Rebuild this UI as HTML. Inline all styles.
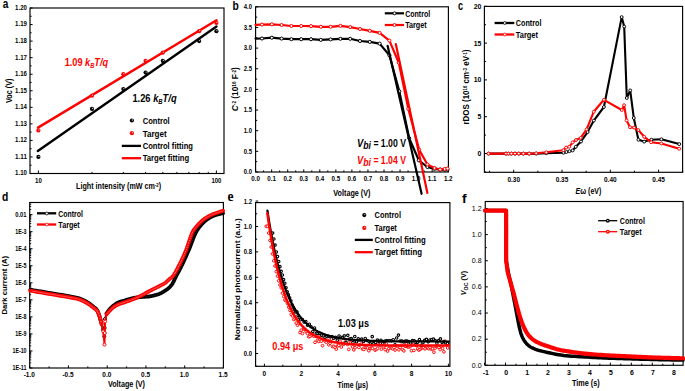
<!DOCTYPE html><html><head><meta charset="utf-8"><style>html,body{margin:0;padding:0;background:#fff;overflow:hidden}svg{display:block}</style></head><body><svg width="685" height="391" viewBox="0 0 685 391">
<rect width="685" height="391" fill="#fff"/>
<rect x="30" y="8" width="194" height="165.5" fill="none" stroke="#000" stroke-width="1.15"/>
<line x1="30" y1="173.5" x2="32.6" y2="173.5" stroke="#000" stroke-width="1" />
<line x1="30" y1="156.95" x2="32.6" y2="156.95" stroke="#000" stroke-width="1" />
<line x1="30" y1="140.4" x2="32.6" y2="140.4" stroke="#000" stroke-width="1" />
<line x1="30" y1="123.85" x2="32.6" y2="123.85" stroke="#000" stroke-width="1" />
<line x1="30" y1="107.3" x2="32.6" y2="107.3" stroke="#000" stroke-width="1" />
<line x1="30" y1="90.75" x2="32.6" y2="90.75" stroke="#000" stroke-width="1" />
<line x1="30" y1="74.2" x2="32.6" y2="74.2" stroke="#000" stroke-width="1" />
<line x1="30" y1="57.65" x2="32.6" y2="57.65" stroke="#000" stroke-width="1" />
<line x1="30" y1="41.1" x2="32.6" y2="41.1" stroke="#000" stroke-width="1" />
<line x1="30" y1="24.55" x2="32.6" y2="24.55" stroke="#000" stroke-width="1" />
<line x1="30" y1="8" x2="32.6" y2="8" stroke="#000" stroke-width="1" />
<line x1="30" y1="165.23" x2="31.6" y2="165.23" stroke="#000" stroke-width="1" />
<line x1="30" y1="148.68" x2="31.6" y2="148.68" stroke="#000" stroke-width="1" />
<line x1="30" y1="132.13" x2="31.6" y2="132.13" stroke="#000" stroke-width="1" />
<line x1="30" y1="115.58" x2="31.6" y2="115.58" stroke="#000" stroke-width="1" />
<line x1="30" y1="99.03" x2="31.6" y2="99.03" stroke="#000" stroke-width="1" />
<line x1="30" y1="82.48" x2="31.6" y2="82.48" stroke="#000" stroke-width="1" />
<line x1="30" y1="65.93" x2="31.6" y2="65.93" stroke="#000" stroke-width="1" />
<line x1="30" y1="49.38" x2="31.6" y2="49.38" stroke="#000" stroke-width="1" />
<line x1="30" y1="32.83" x2="31.6" y2="32.83" stroke="#000" stroke-width="1" />
<line x1="30" y1="16.28" x2="31.6" y2="16.28" stroke="#000" stroke-width="1" />
<line x1="38.4" y1="173.5" x2="38.4" y2="170.5" stroke="#000" stroke-width="1" />
<line x1="216.4" y1="173.5" x2="216.4" y2="170.5" stroke="#000" stroke-width="1" />
<line x1="91.98" y1="173.5" x2="91.98" y2="171.9" stroke="#000" stroke-width="1" />
<line x1="123.33" y1="173.5" x2="123.33" y2="171.9" stroke="#000" stroke-width="1" />
<line x1="145.57" y1="173.5" x2="145.57" y2="171.9" stroke="#000" stroke-width="1" />
<line x1="162.82" y1="173.5" x2="162.82" y2="171.9" stroke="#000" stroke-width="1" />
<line x1="176.91" y1="173.5" x2="176.91" y2="171.9" stroke="#000" stroke-width="1" />
<line x1="188.83" y1="173.5" x2="188.83" y2="171.9" stroke="#000" stroke-width="1" />
<line x1="199.15" y1="173.5" x2="199.15" y2="171.9" stroke="#000" stroke-width="1" />
<line x1="208.26" y1="173.5" x2="208.26" y2="171.9" stroke="#000" stroke-width="1" />
<text x="26.9" y="175.4" font-family="Liberation Sans, sans-serif" font-size="6.5" font-weight="bold" fill="#000" text-anchor="end" textLength="11.8" lengthAdjust="spacingAndGlyphs">1.10</text>
<text x="26.9" y="158.85" font-family="Liberation Sans, sans-serif" font-size="6.5" font-weight="bold" fill="#000" text-anchor="end" textLength="11.8" lengthAdjust="spacingAndGlyphs">1.11</text>
<text x="26.9" y="142.3" font-family="Liberation Sans, sans-serif" font-size="6.5" font-weight="bold" fill="#000" text-anchor="end" textLength="11.8" lengthAdjust="spacingAndGlyphs">1.12</text>
<text x="26.9" y="125.75" font-family="Liberation Sans, sans-serif" font-size="6.5" font-weight="bold" fill="#000" text-anchor="end" textLength="11.8" lengthAdjust="spacingAndGlyphs">1.13</text>
<text x="26.9" y="109.2" font-family="Liberation Sans, sans-serif" font-size="6.5" font-weight="bold" fill="#000" text-anchor="end" textLength="11.8" lengthAdjust="spacingAndGlyphs">1.14</text>
<text x="26.9" y="92.65" font-family="Liberation Sans, sans-serif" font-size="6.5" font-weight="bold" fill="#000" text-anchor="end" textLength="11.8" lengthAdjust="spacingAndGlyphs">1.15</text>
<text x="26.9" y="76.1" font-family="Liberation Sans, sans-serif" font-size="6.5" font-weight="bold" fill="#000" text-anchor="end" textLength="11.8" lengthAdjust="spacingAndGlyphs">1.16</text>
<text x="26.9" y="59.55" font-family="Liberation Sans, sans-serif" font-size="6.5" font-weight="bold" fill="#000" text-anchor="end" textLength="11.8" lengthAdjust="spacingAndGlyphs">1.17</text>
<text x="26.9" y="43" font-family="Liberation Sans, sans-serif" font-size="6.5" font-weight="bold" fill="#000" text-anchor="end" textLength="11.8" lengthAdjust="spacingAndGlyphs">1.18</text>
<text x="26.9" y="26.45" font-family="Liberation Sans, sans-serif" font-size="6.5" font-weight="bold" fill="#000" text-anchor="end" textLength="11.8" lengthAdjust="spacingAndGlyphs">1.19</text>
<text x="26.9" y="9.9" font-family="Liberation Sans, sans-serif" font-size="6.5" font-weight="bold" fill="#000" text-anchor="end" textLength="11.8" lengthAdjust="spacingAndGlyphs">1.20</text>
<text x="38.4" y="182.7" font-family="Liberation Sans, sans-serif" font-size="6.5" font-weight="bold" fill="#000" text-anchor="middle" textLength="6.8" lengthAdjust="spacingAndGlyphs">10</text>
<text x="216.4" y="182.7" font-family="Liberation Sans, sans-serif" font-size="6.5" font-weight="bold" fill="#000" text-anchor="middle" textLength="10" lengthAdjust="spacingAndGlyphs">100</text>
<polyline points="38,127.6 216.5,20.2" fill="none" stroke="#ff0000" stroke-width="2.4" stroke-linejoin="round" stroke-linecap="round" />
<polyline points="37.8,150.9 216.5,26.4" fill="none" stroke="#000" stroke-width="2.4" stroke-linejoin="round" stroke-linecap="round" />
<circle cx="38.4" cy="156.95" r="2.1" fill="#000"/>
<circle cx="38.9" cy="156.45" r="0.65" fill="#fff" opacity="0.8"/>
<circle cx="91.98" cy="108.96" r="2.1" fill="#000"/>
<circle cx="92.48" cy="108.46" r="0.65" fill="#fff" opacity="0.8"/>
<circle cx="123.33" cy="89.1" r="2.1" fill="#000"/>
<circle cx="123.83" cy="88.6" r="0.65" fill="#fff" opacity="0.8"/>
<circle cx="145.57" cy="72.55" r="2.1" fill="#000"/>
<circle cx="146.07" cy="72.05" r="0.65" fill="#fff" opacity="0.8"/>
<circle cx="162.82" cy="60.96" r="2.1" fill="#000"/>
<circle cx="163.32" cy="60.46" r="0.65" fill="#fff" opacity="0.8"/>
<circle cx="199.15" cy="41.1" r="2.1" fill="#000"/>
<circle cx="199.65" cy="40.6" r="0.65" fill="#fff" opacity="0.8"/>
<circle cx="216.4" cy="31.17" r="2.1" fill="#000"/>
<circle cx="216.9" cy="30.67" r="0.65" fill="#fff" opacity="0.8"/>
<circle cx="38.4" cy="130.47" r="2.1" fill="#ff0000"/>
<circle cx="38.9" cy="129.97" r="0.65" fill="#fff" opacity="0.8"/>
<circle cx="91.98" cy="95.72" r="2.1" fill="#ff0000"/>
<circle cx="92.48" cy="95.22" r="0.65" fill="#fff" opacity="0.8"/>
<circle cx="123.33" cy="74.2" r="2.1" fill="#ff0000"/>
<circle cx="123.83" cy="73.7" r="0.65" fill="#fff" opacity="0.8"/>
<circle cx="145.57" cy="60.96" r="2.1" fill="#ff0000"/>
<circle cx="146.07" cy="60.46" r="0.65" fill="#fff" opacity="0.8"/>
<circle cx="162.82" cy="52.69" r="2.1" fill="#ff0000"/>
<circle cx="163.32" cy="52.19" r="0.65" fill="#fff" opacity="0.8"/>
<circle cx="199.15" cy="31.17" r="2.1" fill="#ff0000"/>
<circle cx="199.65" cy="30.67" r="0.65" fill="#fff" opacity="0.8"/>
<circle cx="216.4" cy="22.9" r="2.1" fill="#ff0000"/>
<circle cx="216.9" cy="22.4" r="0.65" fill="#fff" opacity="0.8"/>
<text x="64.7" y="65.8" font-family="Liberation Sans, sans-serif" font-size="11.2" font-weight="bold" fill="#ff0000" textLength="43.4" lengthAdjust="spacingAndGlyphs">1.09 <tspan font-style="italic">k</tspan><tspan font-style="italic" font-size="7" dy="2.2">B</tspan><tspan font-style="italic" dy="-2.2">T/q</tspan></text>
<text x="132.4" y="101.8" font-family="Liberation Sans, sans-serif" font-size="11.2" font-weight="bold" fill="#000" textLength="44.2" lengthAdjust="spacingAndGlyphs">1.26 <tspan font-style="italic">k</tspan><tspan font-style="italic" font-size="7" dy="2.2">B</tspan><tspan font-style="italic" dy="-2.2">T/q</tspan></text>
<circle cx="131.9" cy="120.5" r="2.1" fill="#000"/>
<circle cx="132.4" cy="120" r="0.65" fill="#fff" opacity="0.8"/>
<circle cx="131.9" cy="133.2" r="2.1" fill="#ff0000"/>
<circle cx="132.4" cy="132.7" r="0.65" fill="#fff" opacity="0.8"/>
<line x1="121.8" y1="145.9" x2="141" y2="145.9" stroke="#000" stroke-width="2.3" />
<line x1="121.8" y1="158.2" x2="141" y2="158.2" stroke="#ff0000" stroke-width="2.3" />
<text x="142.7" y="124" font-family="Liberation Sans, sans-serif" font-size="8.4" font-weight="bold" fill="#000" text-anchor="start" textLength="27" lengthAdjust="spacingAndGlyphs">Control</text>
<text x="142.7" y="136.5" font-family="Liberation Sans, sans-serif" font-size="8.4" font-weight="bold" fill="#000" text-anchor="start" textLength="24" lengthAdjust="spacingAndGlyphs">Target</text>
<text x="142.7" y="148.9" font-family="Liberation Sans, sans-serif" font-size="8.4" font-weight="bold" fill="#000" text-anchor="start" textLength="50.3" lengthAdjust="spacingAndGlyphs">Control fitting</text>
<text x="142.7" y="161.2" font-family="Liberation Sans, sans-serif" font-size="8.4" font-weight="bold" fill="#000" text-anchor="start" textLength="46.5" lengthAdjust="spacingAndGlyphs">Target fitting</text>
<text x="76.1" y="189.3" font-family="Liberation Sans, sans-serif" font-size="8.5" font-weight="bold" fill="#000" text-anchor="start" textLength="85" lengthAdjust="spacingAndGlyphs">Light intensity (mW cm<tspan font-size="5" dy="-2.6">-2</tspan><tspan dy="2.6">)</tspan></text>
<text transform="translate(11.6 90.8) rotate(-90)" font-family="Liberation Sans, sans-serif" font-size="8.6" font-weight="bold" text-anchor="middle" fill="#000" textLength="24.5" lengthAdjust="spacingAndGlyphs">Voc (V)</text>
<text x="2.7" y="8" font-family="Liberation Sans, sans-serif" font-size="12.3" font-weight="bold" fill="#000" text-anchor="start" textLength="5.6" lengthAdjust="spacingAndGlyphs">a</text>
<rect x="255.6" y="6.8" width="192.8" height="165.2" fill="none" stroke="#000" stroke-width="1.15"/>
<line x1="255.6" y1="172" x2="258.2" y2="172" stroke="#000" stroke-width="1" />
<line x1="255.6" y1="151.35" x2="258.2" y2="151.35" stroke="#000" stroke-width="1" />
<line x1="255.6" y1="130.7" x2="258.2" y2="130.7" stroke="#000" stroke-width="1" />
<line x1="255.6" y1="110.05" x2="258.2" y2="110.05" stroke="#000" stroke-width="1" />
<line x1="255.6" y1="89.4" x2="258.2" y2="89.4" stroke="#000" stroke-width="1" />
<line x1="255.6" y1="68.75" x2="258.2" y2="68.75" stroke="#000" stroke-width="1" />
<line x1="255.6" y1="48.1" x2="258.2" y2="48.1" stroke="#000" stroke-width="1" />
<line x1="255.6" y1="27.45" x2="258.2" y2="27.45" stroke="#000" stroke-width="1" />
<line x1="255.6" y1="6.8" x2="258.2" y2="6.8" stroke="#000" stroke-width="1" />
<line x1="255.6" y1="161.68" x2="257.2" y2="161.68" stroke="#000" stroke-width="1" />
<line x1="255.6" y1="141.03" x2="257.2" y2="141.03" stroke="#000" stroke-width="1" />
<line x1="255.6" y1="120.38" x2="257.2" y2="120.38" stroke="#000" stroke-width="1" />
<line x1="255.6" y1="99.73" x2="257.2" y2="99.73" stroke="#000" stroke-width="1" />
<line x1="255.6" y1="79.08" x2="257.2" y2="79.08" stroke="#000" stroke-width="1" />
<line x1="255.6" y1="58.43" x2="257.2" y2="58.43" stroke="#000" stroke-width="1" />
<line x1="255.6" y1="37.78" x2="257.2" y2="37.78" stroke="#000" stroke-width="1" />
<line x1="255.6" y1="17.12" x2="257.2" y2="17.12" stroke="#000" stroke-width="1" />
<line x1="255.6" y1="172" x2="255.6" y2="169.4" stroke="#000" stroke-width="1" />
<line x1="271.65" y1="172" x2="271.65" y2="169.4" stroke="#000" stroke-width="1" />
<line x1="287.7" y1="172" x2="287.7" y2="169.4" stroke="#000" stroke-width="1" />
<line x1="303.75" y1="172" x2="303.75" y2="169.4" stroke="#000" stroke-width="1" />
<line x1="319.8" y1="172" x2="319.8" y2="169.4" stroke="#000" stroke-width="1" />
<line x1="335.85" y1="172" x2="335.85" y2="169.4" stroke="#000" stroke-width="1" />
<line x1="351.9" y1="172" x2="351.9" y2="169.4" stroke="#000" stroke-width="1" />
<line x1="367.95" y1="172" x2="367.95" y2="169.4" stroke="#000" stroke-width="1" />
<line x1="384" y1="172" x2="384" y2="169.4" stroke="#000" stroke-width="1" />
<line x1="400.05" y1="172" x2="400.05" y2="169.4" stroke="#000" stroke-width="1" />
<line x1="416.1" y1="172" x2="416.1" y2="169.4" stroke="#000" stroke-width="1" />
<line x1="432.15" y1="172" x2="432.15" y2="169.4" stroke="#000" stroke-width="1" />
<line x1="448.2" y1="172" x2="448.2" y2="169.4" stroke="#000" stroke-width="1" />
<line x1="263.62" y1="172" x2="263.62" y2="170.4" stroke="#000" stroke-width="1" />
<line x1="279.68" y1="172" x2="279.68" y2="170.4" stroke="#000" stroke-width="1" />
<line x1="295.73" y1="172" x2="295.73" y2="170.4" stroke="#000" stroke-width="1" />
<line x1="311.77" y1="172" x2="311.77" y2="170.4" stroke="#000" stroke-width="1" />
<line x1="327.82" y1="172" x2="327.82" y2="170.4" stroke="#000" stroke-width="1" />
<line x1="343.88" y1="172" x2="343.88" y2="170.4" stroke="#000" stroke-width="1" />
<line x1="359.93" y1="172" x2="359.93" y2="170.4" stroke="#000" stroke-width="1" />
<line x1="375.98" y1="172" x2="375.98" y2="170.4" stroke="#000" stroke-width="1" />
<line x1="392.02" y1="172" x2="392.02" y2="170.4" stroke="#000" stroke-width="1" />
<line x1="408.08" y1="172" x2="408.08" y2="170.4" stroke="#000" stroke-width="1" />
<line x1="424.12" y1="172" x2="424.12" y2="170.4" stroke="#000" stroke-width="1" />
<line x1="440.18" y1="172" x2="440.18" y2="170.4" stroke="#000" stroke-width="1" />
<text x="252" y="174.2" font-family="Liberation Sans, sans-serif" font-size="6.5" font-weight="bold" fill="#000" text-anchor="end" textLength="8.2" lengthAdjust="spacingAndGlyphs">0.0</text>
<text x="252" y="153.55" font-family="Liberation Sans, sans-serif" font-size="6.5" font-weight="bold" fill="#000" text-anchor="end" textLength="8.2" lengthAdjust="spacingAndGlyphs">0.5</text>
<text x="252" y="132.9" font-family="Liberation Sans, sans-serif" font-size="6.5" font-weight="bold" fill="#000" text-anchor="end" textLength="8.2" lengthAdjust="spacingAndGlyphs">1.0</text>
<text x="252" y="112.25" font-family="Liberation Sans, sans-serif" font-size="6.5" font-weight="bold" fill="#000" text-anchor="end" textLength="8.2" lengthAdjust="spacingAndGlyphs">1.5</text>
<text x="252" y="91.6" font-family="Liberation Sans, sans-serif" font-size="6.5" font-weight="bold" fill="#000" text-anchor="end" textLength="8.2" lengthAdjust="spacingAndGlyphs">2.0</text>
<text x="252" y="70.95" font-family="Liberation Sans, sans-serif" font-size="6.5" font-weight="bold" fill="#000" text-anchor="end" textLength="8.2" lengthAdjust="spacingAndGlyphs">2.5</text>
<text x="252" y="50.3" font-family="Liberation Sans, sans-serif" font-size="6.5" font-weight="bold" fill="#000" text-anchor="end" textLength="8.2" lengthAdjust="spacingAndGlyphs">3.0</text>
<text x="252" y="29.65" font-family="Liberation Sans, sans-serif" font-size="6.5" font-weight="bold" fill="#000" text-anchor="end" textLength="8.2" lengthAdjust="spacingAndGlyphs">3.5</text>
<text x="252" y="9" font-family="Liberation Sans, sans-serif" font-size="6.5" font-weight="bold" fill="#000" text-anchor="end" textLength="8.2" lengthAdjust="spacingAndGlyphs">4.0</text>
<text x="255.6" y="181.2" font-family="Liberation Sans, sans-serif" font-size="6.5" font-weight="bold" fill="#000" text-anchor="middle" textLength="8.6" lengthAdjust="spacingAndGlyphs">0.0</text>
<text x="271.65" y="181.2" font-family="Liberation Sans, sans-serif" font-size="6.5" font-weight="bold" fill="#000" text-anchor="middle" textLength="8.6" lengthAdjust="spacingAndGlyphs">0.1</text>
<text x="287.7" y="181.2" font-family="Liberation Sans, sans-serif" font-size="6.5" font-weight="bold" fill="#000" text-anchor="middle" textLength="8.6" lengthAdjust="spacingAndGlyphs">0.2</text>
<text x="303.75" y="181.2" font-family="Liberation Sans, sans-serif" font-size="6.5" font-weight="bold" fill="#000" text-anchor="middle" textLength="8.6" lengthAdjust="spacingAndGlyphs">0.3</text>
<text x="319.8" y="181.2" font-family="Liberation Sans, sans-serif" font-size="6.5" font-weight="bold" fill="#000" text-anchor="middle" textLength="8.6" lengthAdjust="spacingAndGlyphs">0.4</text>
<text x="335.85" y="181.2" font-family="Liberation Sans, sans-serif" font-size="6.5" font-weight="bold" fill="#000" text-anchor="middle" textLength="8.6" lengthAdjust="spacingAndGlyphs">0.5</text>
<text x="351.9" y="181.2" font-family="Liberation Sans, sans-serif" font-size="6.5" font-weight="bold" fill="#000" text-anchor="middle" textLength="8.6" lengthAdjust="spacingAndGlyphs">0.6</text>
<text x="367.95" y="181.2" font-family="Liberation Sans, sans-serif" font-size="6.5" font-weight="bold" fill="#000" text-anchor="middle" textLength="8.6" lengthAdjust="spacingAndGlyphs">0.7</text>
<text x="384" y="181.2" font-family="Liberation Sans, sans-serif" font-size="6.5" font-weight="bold" fill="#000" text-anchor="middle" textLength="8.6" lengthAdjust="spacingAndGlyphs">0.8</text>
<text x="400.05" y="181.2" font-family="Liberation Sans, sans-serif" font-size="6.5" font-weight="bold" fill="#000" text-anchor="middle" textLength="8.6" lengthAdjust="spacingAndGlyphs">0.9</text>
<text x="416.1" y="181.2" font-family="Liberation Sans, sans-serif" font-size="6.5" font-weight="bold" fill="#000" text-anchor="middle" textLength="8.6" lengthAdjust="spacingAndGlyphs">1.0</text>
<text x="432.15" y="181.2" font-family="Liberation Sans, sans-serif" font-size="6.5" font-weight="bold" fill="#000" text-anchor="middle" textLength="8.6" lengthAdjust="spacingAndGlyphs">1.1</text>
<text x="448.2" y="181.2" font-family="Liberation Sans, sans-serif" font-size="6.5" font-weight="bold" fill="#000" text-anchor="middle" textLength="8.6" lengthAdjust="spacingAndGlyphs">1.2</text>
<polyline points="255.5,38.6 262,38.5 271.8,37.7 281.6,38.6 291.4,39.2 301.2,39.2 311,39.2 320.8,39.9 330.6,39.4 340.4,38.8 350.2,38.8 360,41 369.8,41.9 379.6,43.6 389.4,55.3 399.3,91.3 409.2,138.2 418.8,160.3 427.4,167 434.5,168.9 440.2,169.6 444.7,169.8 447.5,169.6" fill="none" stroke="#000" stroke-width="2.2" stroke-linejoin="round" stroke-linecap="round" />
<circle cx="262" cy="38.5" r="1.55" fill="#fff" stroke="#000" stroke-width="1.0"/>
<circle cx="271.8" cy="37.7" r="1.55" fill="#fff" stroke="#000" stroke-width="1.0"/>
<circle cx="281.6" cy="38.6" r="1.55" fill="#fff" stroke="#000" stroke-width="1.0"/>
<circle cx="291.4" cy="39.2" r="1.55" fill="#fff" stroke="#000" stroke-width="1.0"/>
<circle cx="301.2" cy="39.2" r="1.55" fill="#fff" stroke="#000" stroke-width="1.0"/>
<circle cx="311" cy="39.2" r="1.55" fill="#fff" stroke="#000" stroke-width="1.0"/>
<circle cx="320.8" cy="39.9" r="1.55" fill="#fff" stroke="#000" stroke-width="1.0"/>
<circle cx="330.6" cy="39.4" r="1.55" fill="#fff" stroke="#000" stroke-width="1.0"/>
<circle cx="340.4" cy="38.8" r="1.55" fill="#fff" stroke="#000" stroke-width="1.0"/>
<circle cx="350.2" cy="38.8" r="1.55" fill="#fff" stroke="#000" stroke-width="1.0"/>
<circle cx="360" cy="41" r="1.55" fill="#fff" stroke="#000" stroke-width="1.0"/>
<circle cx="369.8" cy="41.9" r="1.55" fill="#fff" stroke="#000" stroke-width="1.0"/>
<circle cx="379.6" cy="43.6" r="1.55" fill="#fff" stroke="#000" stroke-width="1.0"/>
<circle cx="389.4" cy="55.3" r="1.55" fill="#fff" stroke="#000" stroke-width="1.0"/>
<circle cx="399.3" cy="91.3" r="1.55" fill="#fff" stroke="#000" stroke-width="1.0"/>
<circle cx="409.2" cy="138.2" r="1.55" fill="#fff" stroke="#000" stroke-width="1.0"/>
<circle cx="418.8" cy="160.3" r="1.55" fill="#fff" stroke="#000" stroke-width="1.0"/>
<circle cx="427.4" cy="167" r="1.55" fill="#fff" stroke="#000" stroke-width="1.0"/>
<circle cx="434.5" cy="168.9" r="1.55" fill="#fff" stroke="#000" stroke-width="1.0"/>
<circle cx="440.2" cy="169.6" r="1.55" fill="#fff" stroke="#000" stroke-width="1.0"/>
<circle cx="444.7" cy="169.8" r="1.55" fill="#fff" stroke="#000" stroke-width="1.0"/>
<circle cx="447.5" cy="169.6" r="1.55" fill="#fff" stroke="#000" stroke-width="1.0"/>
<polyline points="255.5,24.8 262,24.6 271.8,24.3 281.6,25 291.4,26 301.2,26 311,26.1 320.8,26.8 330.6,26.8 340.4,25.8 350.2,27.1 360,29 369.8,30.8 379.6,32.9 389.4,40.6 398.8,62.7 408.3,108.7 419.2,149.7 427.4,164.5 434.5,168 440.2,169.5 444.7,168.9 447.5,168.5" fill="none" stroke="#ff0000" stroke-width="2.2" stroke-linejoin="round" stroke-linecap="round" />
<circle cx="262" cy="24.6" r="1.55" fill="#fff" stroke="#ff0000" stroke-width="1.0"/>
<circle cx="271.8" cy="24.3" r="1.55" fill="#fff" stroke="#ff0000" stroke-width="1.0"/>
<circle cx="281.6" cy="25" r="1.55" fill="#fff" stroke="#ff0000" stroke-width="1.0"/>
<circle cx="291.4" cy="26" r="1.55" fill="#fff" stroke="#ff0000" stroke-width="1.0"/>
<circle cx="301.2" cy="26" r="1.55" fill="#fff" stroke="#ff0000" stroke-width="1.0"/>
<circle cx="311" cy="26.1" r="1.55" fill="#fff" stroke="#ff0000" stroke-width="1.0"/>
<circle cx="320.8" cy="26.8" r="1.55" fill="#fff" stroke="#ff0000" stroke-width="1.0"/>
<circle cx="330.6" cy="26.8" r="1.55" fill="#fff" stroke="#ff0000" stroke-width="1.0"/>
<circle cx="340.4" cy="25.8" r="1.55" fill="#fff" stroke="#ff0000" stroke-width="1.0"/>
<circle cx="350.2" cy="27.1" r="1.55" fill="#fff" stroke="#ff0000" stroke-width="1.0"/>
<circle cx="360" cy="29" r="1.55" fill="#fff" stroke="#ff0000" stroke-width="1.0"/>
<circle cx="369.8" cy="30.8" r="1.55" fill="#fff" stroke="#ff0000" stroke-width="1.0"/>
<circle cx="379.6" cy="32.9" r="1.55" fill="#fff" stroke="#ff0000" stroke-width="1.0"/>
<circle cx="389.4" cy="40.6" r="1.55" fill="#fff" stroke="#ff0000" stroke-width="1.0"/>
<circle cx="398.8" cy="62.7" r="1.55" fill="#fff" stroke="#ff0000" stroke-width="1.0"/>
<circle cx="408.3" cy="108.7" r="1.55" fill="#fff" stroke="#ff0000" stroke-width="1.0"/>
<circle cx="419.2" cy="149.7" r="1.55" fill="#fff" stroke="#ff0000" stroke-width="1.0"/>
<circle cx="427.4" cy="164.5" r="1.55" fill="#fff" stroke="#ff0000" stroke-width="1.0"/>
<circle cx="434.5" cy="168" r="1.55" fill="#fff" stroke="#ff0000" stroke-width="1.0"/>
<circle cx="440.2" cy="169.5" r="1.55" fill="#fff" stroke="#ff0000" stroke-width="1.0"/>
<circle cx="444.7" cy="168.9" r="1.55" fill="#fff" stroke="#ff0000" stroke-width="1.0"/>
<circle cx="447.5" cy="168.5" r="1.55" fill="#fff" stroke="#ff0000" stroke-width="1.0"/>
<polyline points="387.6,45.8 421.6,193.8" fill="none" stroke="#000" stroke-width="2.2" stroke-linejoin="round" stroke-linecap="round" />
<polyline points="395.8,44 427.4,193" fill="none" stroke="#ff0000" stroke-width="2.2" stroke-linejoin="round" stroke-linecap="round" />
<line x1="384.8" y1="13.3" x2="404" y2="13.3" stroke="#000" stroke-width="2.2" />
<circle cx="394.5" cy="13.3" r="1.5" fill="#fff" stroke="#000" stroke-width="1.0"/>
<line x1="384.8" y1="25" x2="404" y2="25" stroke="#ff0000" stroke-width="2.2" />
<circle cx="394.5" cy="25" r="1.5" fill="#fff" stroke="#ff0000" stroke-width="1.0"/>
<text x="405.2" y="16.5" font-family="Liberation Sans, sans-serif" font-size="8.4" font-weight="bold" fill="#000" text-anchor="start" textLength="25" lengthAdjust="spacingAndGlyphs">Control</text>
<text x="405.2" y="28.4" font-family="Liberation Sans, sans-serif" font-size="8.4" font-weight="bold" fill="#000" text-anchor="start" textLength="21.5" lengthAdjust="spacingAndGlyphs">Target</text>
<text x="357" y="146.9" font-family="Liberation Sans, sans-serif" font-size="10.0" font-weight="bold" fill="#000" textLength="49" lengthAdjust="spacingAndGlyphs"><tspan font-style="italic" font-size="10.8">V</tspan><tspan font-style="italic" dy="2">bi</tspan><tspan dy="-2"> = 1.00 V</tspan></text>
<text x="357" y="163.6" font-family="Liberation Sans, sans-serif" font-size="10.0" font-weight="bold" fill="#ff0000" textLength="49" lengthAdjust="spacingAndGlyphs"><tspan font-style="italic" font-size="10.8">V</tspan><tspan font-style="italic" dy="2">bi</tspan><tspan dy="-2"> = 1.04 V</tspan></text>
<text transform="translate(238.4 89.2) rotate(-90)" font-family="Liberation Sans, sans-serif" font-size="8.2" font-weight="bold" text-anchor="middle" fill="#000" textLength="44" lengthAdjust="spacingAndGlyphs"><tspan font-style="italic">C</tspan><tspan font-size="4.5" dy="-2.5">-2</tspan><tspan dy="2.5"> (10</tspan><tspan font-size="4.5" dy="-2.5">16</tspan><tspan dy="2.5"> F</tspan><tspan font-size="4.5" dy="-2.5">-2</tspan><tspan dy="2.5">)</tspan></text>
<text x="333.3" y="195.7" font-family="Liberation Sans, sans-serif" font-size="8.6" font-weight="bold" fill="#000" text-anchor="start" textLength="37.2" lengthAdjust="spacingAndGlyphs">Voltage (V)</text>
<text x="232.6" y="9.8" font-family="Liberation Sans, sans-serif" font-size="12.3" font-weight="bold" fill="#000" text-anchor="start" textLength="6.3" lengthAdjust="spacingAndGlyphs">b</text>
<rect x="484.4" y="6.4" width="198.2" height="165.9" fill="none" stroke="#000" stroke-width="1.15"/>
<line x1="484.4" y1="153.5" x2="487" y2="153.5" stroke="#000" stroke-width="1" />
<line x1="484.4" y1="116.7" x2="487" y2="116.7" stroke="#000" stroke-width="1" />
<line x1="484.4" y1="79.9" x2="487" y2="79.9" stroke="#000" stroke-width="1" />
<line x1="484.4" y1="43.1" x2="487" y2="43.1" stroke="#000" stroke-width="1" />
<line x1="484.4" y1="6.3" x2="487" y2="6.3" stroke="#000" stroke-width="1" />
<line x1="484.4" y1="135.1" x2="486" y2="135.1" stroke="#000" stroke-width="1" />
<line x1="484.4" y1="98.3" x2="486" y2="98.3" stroke="#000" stroke-width="1" />
<line x1="484.4" y1="61.5" x2="486" y2="61.5" stroke="#000" stroke-width="1" />
<line x1="484.4" y1="24.7" x2="486" y2="24.7" stroke="#000" stroke-width="1" />
<line x1="484.4" y1="171.9" x2="486" y2="171.9" stroke="#000" stroke-width="1" />
<line x1="513.7" y1="172.3" x2="513.7" y2="169.7" stroke="#000" stroke-width="1" />
<line x1="562" y1="172.3" x2="562" y2="169.7" stroke="#000" stroke-width="1" />
<line x1="610.3" y1="172.3" x2="610.3" y2="169.7" stroke="#000" stroke-width="1" />
<line x1="658.6" y1="172.3" x2="658.6" y2="169.7" stroke="#000" stroke-width="1" />
<line x1="489.55" y1="172.3" x2="489.55" y2="170.7" stroke="#000" stroke-width="1" />
<line x1="537.85" y1="172.3" x2="537.85" y2="170.7" stroke="#000" stroke-width="1" />
<line x1="586.15" y1="172.3" x2="586.15" y2="170.7" stroke="#000" stroke-width="1" />
<line x1="634.45" y1="172.3" x2="634.45" y2="170.7" stroke="#000" stroke-width="1" />
<line x1="682.75" y1="172.3" x2="682.75" y2="170.7" stroke="#000" stroke-width="1" />
<text x="481.3" y="155.9" font-family="Liberation Sans, sans-serif" font-size="6.9" font-weight="bold" fill="#000" text-anchor="end">0</text>
<text x="481.3" y="119.1" font-family="Liberation Sans, sans-serif" font-size="6.9" font-weight="bold" fill="#000" text-anchor="end">5</text>
<text x="481.3" y="82.3" font-family="Liberation Sans, sans-serif" font-size="6.9" font-weight="bold" fill="#000" text-anchor="end">10</text>
<text x="481.3" y="45.5" font-family="Liberation Sans, sans-serif" font-size="6.9" font-weight="bold" fill="#000" text-anchor="end">15</text>
<text x="481.3" y="8.7" font-family="Liberation Sans, sans-serif" font-size="6.9" font-weight="bold" fill="#000" text-anchor="end">20</text>
<text x="513.7" y="182" font-family="Liberation Sans, sans-serif" font-size="6.9" font-weight="bold" fill="#000" text-anchor="middle" textLength="12.6" lengthAdjust="spacingAndGlyphs">0.30</text>
<text x="562" y="182" font-family="Liberation Sans, sans-serif" font-size="6.9" font-weight="bold" fill="#000" text-anchor="middle" textLength="12.6" lengthAdjust="spacingAndGlyphs">0.35</text>
<text x="610.3" y="182" font-family="Liberation Sans, sans-serif" font-size="6.9" font-weight="bold" fill="#000" text-anchor="middle" textLength="12.6" lengthAdjust="spacingAndGlyphs">0.40</text>
<text x="658.6" y="182" font-family="Liberation Sans, sans-serif" font-size="6.9" font-weight="bold" fill="#000" text-anchor="middle" textLength="12.6" lengthAdjust="spacingAndGlyphs">0.45</text>
<polyline points="488.5,153.6 506,153.6 508.5,153.6 511.4,153.6 515,153.6 518.7,153.6 523.4,153.6 529.2,153.6 536.2,153.6 546.3,153.2 563.5,152.8 566.4,152 569.5,151.2 572.6,150.5 575.8,146.8 581,141.5 587.6,132.1 593.8,120.6 603.9,107 621.7,17.1 624.2,26.6 626.8,98 630.2,90.4 633.8,118 638.4,139.7 644.2,141.6 651.4,139.7 661.4,139.3 679.2,144.1" fill="none" stroke="#000" stroke-width="2.1" stroke-linejoin="round" stroke-linecap="round" />
<circle cx="488.5" cy="153.6" r="1.45" fill="#fff" stroke="#000" stroke-width="0.95"/>
<circle cx="506" cy="153.6" r="1.45" fill="#fff" stroke="#000" stroke-width="0.95"/>
<circle cx="508.5" cy="153.6" r="1.45" fill="#fff" stroke="#000" stroke-width="0.95"/>
<circle cx="511.4" cy="153.6" r="1.45" fill="#fff" stroke="#000" stroke-width="0.95"/>
<circle cx="515" cy="153.6" r="1.45" fill="#fff" stroke="#000" stroke-width="0.95"/>
<circle cx="518.7" cy="153.6" r="1.45" fill="#fff" stroke="#000" stroke-width="0.95"/>
<circle cx="523.4" cy="153.6" r="1.45" fill="#fff" stroke="#000" stroke-width="0.95"/>
<circle cx="529.2" cy="153.6" r="1.45" fill="#fff" stroke="#000" stroke-width="0.95"/>
<circle cx="536.2" cy="153.6" r="1.45" fill="#fff" stroke="#000" stroke-width="0.95"/>
<circle cx="546.3" cy="153.2" r="1.45" fill="#fff" stroke="#000" stroke-width="0.95"/>
<circle cx="563.5" cy="152.8" r="1.45" fill="#fff" stroke="#000" stroke-width="0.95"/>
<circle cx="566.4" cy="152" r="1.45" fill="#fff" stroke="#000" stroke-width="0.95"/>
<circle cx="569.5" cy="151.2" r="1.45" fill="#fff" stroke="#000" stroke-width="0.95"/>
<circle cx="572.6" cy="150.5" r="1.45" fill="#fff" stroke="#000" stroke-width="0.95"/>
<circle cx="575.8" cy="146.8" r="1.45" fill="#fff" stroke="#000" stroke-width="0.95"/>
<circle cx="581" cy="141.5" r="1.45" fill="#fff" stroke="#000" stroke-width="0.95"/>
<circle cx="587.6" cy="132.1" r="1.45" fill="#fff" stroke="#000" stroke-width="0.95"/>
<circle cx="593.8" cy="120.6" r="1.45" fill="#fff" stroke="#000" stroke-width="0.95"/>
<circle cx="603.9" cy="107" r="1.45" fill="#fff" stroke="#000" stroke-width="0.95"/>
<circle cx="621.7" cy="17.1" r="1.45" fill="#fff" stroke="#000" stroke-width="0.95"/>
<circle cx="624.2" cy="26.6" r="1.45" fill="#fff" stroke="#000" stroke-width="0.95"/>
<circle cx="626.8" cy="98" r="1.45" fill="#fff" stroke="#000" stroke-width="0.95"/>
<circle cx="630.2" cy="90.4" r="1.45" fill="#fff" stroke="#000" stroke-width="0.95"/>
<circle cx="633.8" cy="118" r="1.45" fill="#fff" stroke="#000" stroke-width="0.95"/>
<circle cx="638.4" cy="139.7" r="1.45" fill="#fff" stroke="#000" stroke-width="0.95"/>
<circle cx="644.2" cy="141.6" r="1.45" fill="#fff" stroke="#000" stroke-width="0.95"/>
<circle cx="651.4" cy="139.7" r="1.45" fill="#fff" stroke="#000" stroke-width="0.95"/>
<circle cx="661.4" cy="139.3" r="1.45" fill="#fff" stroke="#000" stroke-width="0.95"/>
<circle cx="679.2" cy="144.1" r="1.45" fill="#fff" stroke="#000" stroke-width="0.95"/>
<polyline points="488.5,153.6 506,153.6 508.5,153.6 511.4,153.6 515,153.6 518.7,153.6 523.4,153.6 529.2,153.6 536.2,153.3 546.3,152.3 563.3,150.2 566.1,147.6 569.2,146.8 572.6,142.4 576,140 580.7,137.9 586.6,129.4 593.7,111.8 603.9,99.8 621.8,110 624.1,105.2 626.6,120.4 630,127.2 634.2,127.6 638.4,130.1 644.2,136.8 651.1,142.2 661.4,143.5 679.2,148.7" fill="none" stroke="#ff0000" stroke-width="2.1" stroke-linejoin="round" stroke-linecap="round" />
<circle cx="488.5" cy="153.6" r="1.45" fill="#fff" stroke="#ff0000" stroke-width="0.95"/>
<circle cx="506" cy="153.6" r="1.45" fill="#fff" stroke="#ff0000" stroke-width="0.95"/>
<circle cx="508.5" cy="153.6" r="1.45" fill="#fff" stroke="#ff0000" stroke-width="0.95"/>
<circle cx="511.4" cy="153.6" r="1.45" fill="#fff" stroke="#ff0000" stroke-width="0.95"/>
<circle cx="515" cy="153.6" r="1.45" fill="#fff" stroke="#ff0000" stroke-width="0.95"/>
<circle cx="518.7" cy="153.6" r="1.45" fill="#fff" stroke="#ff0000" stroke-width="0.95"/>
<circle cx="523.4" cy="153.6" r="1.45" fill="#fff" stroke="#ff0000" stroke-width="0.95"/>
<circle cx="529.2" cy="153.6" r="1.45" fill="#fff" stroke="#ff0000" stroke-width="0.95"/>
<circle cx="536.2" cy="153.3" r="1.45" fill="#fff" stroke="#ff0000" stroke-width="0.95"/>
<circle cx="546.3" cy="152.3" r="1.45" fill="#fff" stroke="#ff0000" stroke-width="0.95"/>
<circle cx="563.3" cy="150.2" r="1.45" fill="#fff" stroke="#ff0000" stroke-width="0.95"/>
<circle cx="566.1" cy="147.6" r="1.45" fill="#fff" stroke="#ff0000" stroke-width="0.95"/>
<circle cx="569.2" cy="146.8" r="1.45" fill="#fff" stroke="#ff0000" stroke-width="0.95"/>
<circle cx="572.6" cy="142.4" r="1.45" fill="#fff" stroke="#ff0000" stroke-width="0.95"/>
<circle cx="576" cy="140" r="1.45" fill="#fff" stroke="#ff0000" stroke-width="0.95"/>
<circle cx="580.7" cy="137.9" r="1.45" fill="#fff" stroke="#ff0000" stroke-width="0.95"/>
<circle cx="586.6" cy="129.4" r="1.45" fill="#fff" stroke="#ff0000" stroke-width="0.95"/>
<circle cx="593.7" cy="111.8" r="1.45" fill="#fff" stroke="#ff0000" stroke-width="0.95"/>
<circle cx="603.9" cy="99.8" r="1.45" fill="#fff" stroke="#ff0000" stroke-width="0.95"/>
<circle cx="621.8" cy="110" r="1.45" fill="#fff" stroke="#ff0000" stroke-width="0.95"/>
<circle cx="624.1" cy="105.2" r="1.45" fill="#fff" stroke="#ff0000" stroke-width="0.95"/>
<circle cx="626.6" cy="120.4" r="1.45" fill="#fff" stroke="#ff0000" stroke-width="0.95"/>
<circle cx="630" cy="127.2" r="1.45" fill="#fff" stroke="#ff0000" stroke-width="0.95"/>
<circle cx="634.2" cy="127.6" r="1.45" fill="#fff" stroke="#ff0000" stroke-width="0.95"/>
<circle cx="638.4" cy="130.1" r="1.45" fill="#fff" stroke="#ff0000" stroke-width="0.95"/>
<circle cx="644.2" cy="136.8" r="1.45" fill="#fff" stroke="#ff0000" stroke-width="0.95"/>
<circle cx="651.1" cy="142.2" r="1.45" fill="#fff" stroke="#ff0000" stroke-width="0.95"/>
<circle cx="661.4" cy="143.5" r="1.45" fill="#fff" stroke="#ff0000" stroke-width="0.95"/>
<circle cx="679.2" cy="148.7" r="1.45" fill="#fff" stroke="#ff0000" stroke-width="0.95"/>
<line x1="494.6" y1="23" x2="514.3" y2="23" stroke="#000" stroke-width="2.3" />
<circle cx="504.8" cy="23" r="1.4" fill="#fff" stroke="#000" stroke-width="0.8"/>
<line x1="494.6" y1="34.5" x2="514.3" y2="34.5" stroke="#ff0000" stroke-width="2.3" />
<circle cx="504.8" cy="34.5" r="1.4" fill="#fff" stroke="#ff0000" stroke-width="0.8"/>
<text x="515.8" y="26" font-family="Liberation Sans, sans-serif" font-size="8.4" font-weight="bold" fill="#000" text-anchor="start" textLength="25.6" lengthAdjust="spacingAndGlyphs">Control</text>
<text x="515.8" y="37.5" font-family="Liberation Sans, sans-serif" font-size="8.4" font-weight="bold" fill="#000" text-anchor="start" textLength="22.2" lengthAdjust="spacingAndGlyphs">Target</text>
<text transform="translate(469 87) rotate(-90)" font-family="Liberation Sans, sans-serif" font-size="8.2" font-weight="bold" text-anchor="middle" fill="#000" textLength="75" lengthAdjust="spacingAndGlyphs">rDOS (10<tspan font-size="4.5" dy="-2.5">16</tspan><tspan dy="2.5"> cm</tspan><tspan font-size="4.5" dy="-2.5">-3</tspan><tspan dy="2.5"> eV</tspan><tspan font-size="4.5" dy="-2.5">-1</tspan><tspan dy="2.5">)</tspan></text>
<text x="575.6" y="194.3" font-family="Liberation Sans, sans-serif" font-size="8.8" font-weight="bold" fill="#000" text-anchor="start" textLength="25.7" lengthAdjust="spacingAndGlyphs"><tspan font-style="italic">E</tspan>ω (eV)</text>
<text x="458" y="10.1" font-family="Liberation Sans, sans-serif" font-size="12.3" font-weight="bold" fill="#000" text-anchor="start" textLength="5.1" lengthAdjust="spacingAndGlyphs">c</text>
<rect x="29.7" y="202.5" width="193.7" height="165.5" fill="none" stroke="#000" stroke-width="1.15"/>
<line x1="29.7" y1="214.64" x2="32.5" y2="214.64" stroke="#000" stroke-width="1" />
<line x1="29.7" y1="231.68" x2="32.5" y2="231.68" stroke="#000" stroke-width="1" />
<line x1="29.7" y1="248.72" x2="32.5" y2="248.72" stroke="#000" stroke-width="1" />
<line x1="29.7" y1="265.76" x2="32.5" y2="265.76" stroke="#000" stroke-width="1" />
<line x1="29.7" y1="282.8" x2="32.5" y2="282.8" stroke="#000" stroke-width="1" />
<line x1="29.7" y1="299.84" x2="32.5" y2="299.84" stroke="#000" stroke-width="1" />
<line x1="29.7" y1="316.88" x2="32.5" y2="316.88" stroke="#000" stroke-width="1" />
<line x1="29.7" y1="333.92" x2="32.5" y2="333.92" stroke="#000" stroke-width="1" />
<line x1="29.7" y1="350.96" x2="32.5" y2="350.96" stroke="#000" stroke-width="1" />
<line x1="29.7" y1="368" x2="32.5" y2="368" stroke="#000" stroke-width="1" />
<line x1="29.7" y1="226.55" x2="31.2" y2="226.55" stroke="#000" stroke-width="0.9" />
<line x1="29.7" y1="223.55" x2="31.2" y2="223.55" stroke="#000" stroke-width="0.9" />
<line x1="29.7" y1="221.42" x2="31.2" y2="221.42" stroke="#000" stroke-width="0.9" />
<line x1="29.7" y1="219.77" x2="31.2" y2="219.77" stroke="#000" stroke-width="0.9" />
<line x1="29.7" y1="218.42" x2="31.2" y2="218.42" stroke="#000" stroke-width="0.9" />
<line x1="29.7" y1="217.28" x2="31.2" y2="217.28" stroke="#000" stroke-width="0.9" />
<line x1="29.7" y1="216.29" x2="31.2" y2="216.29" stroke="#000" stroke-width="0.9" />
<line x1="29.7" y1="215.42" x2="31.2" y2="215.42" stroke="#000" stroke-width="0.9" />
<line x1="29.7" y1="243.59" x2="31.2" y2="243.59" stroke="#000" stroke-width="0.9" />
<line x1="29.7" y1="240.59" x2="31.2" y2="240.59" stroke="#000" stroke-width="0.9" />
<line x1="29.7" y1="238.46" x2="31.2" y2="238.46" stroke="#000" stroke-width="0.9" />
<line x1="29.7" y1="236.81" x2="31.2" y2="236.81" stroke="#000" stroke-width="0.9" />
<line x1="29.7" y1="235.46" x2="31.2" y2="235.46" stroke="#000" stroke-width="0.9" />
<line x1="29.7" y1="234.32" x2="31.2" y2="234.32" stroke="#000" stroke-width="0.9" />
<line x1="29.7" y1="233.33" x2="31.2" y2="233.33" stroke="#000" stroke-width="0.9" />
<line x1="29.7" y1="232.46" x2="31.2" y2="232.46" stroke="#000" stroke-width="0.9" />
<line x1="29.7" y1="260.63" x2="31.2" y2="260.63" stroke="#000" stroke-width="0.9" />
<line x1="29.7" y1="257.63" x2="31.2" y2="257.63" stroke="#000" stroke-width="0.9" />
<line x1="29.7" y1="255.5" x2="31.2" y2="255.5" stroke="#000" stroke-width="0.9" />
<line x1="29.7" y1="253.85" x2="31.2" y2="253.85" stroke="#000" stroke-width="0.9" />
<line x1="29.7" y1="252.5" x2="31.2" y2="252.5" stroke="#000" stroke-width="0.9" />
<line x1="29.7" y1="251.36" x2="31.2" y2="251.36" stroke="#000" stroke-width="0.9" />
<line x1="29.7" y1="250.37" x2="31.2" y2="250.37" stroke="#000" stroke-width="0.9" />
<line x1="29.7" y1="249.5" x2="31.2" y2="249.5" stroke="#000" stroke-width="0.9" />
<line x1="29.7" y1="277.67" x2="31.2" y2="277.67" stroke="#000" stroke-width="0.9" />
<line x1="29.7" y1="274.67" x2="31.2" y2="274.67" stroke="#000" stroke-width="0.9" />
<line x1="29.7" y1="272.54" x2="31.2" y2="272.54" stroke="#000" stroke-width="0.9" />
<line x1="29.7" y1="270.89" x2="31.2" y2="270.89" stroke="#000" stroke-width="0.9" />
<line x1="29.7" y1="269.54" x2="31.2" y2="269.54" stroke="#000" stroke-width="0.9" />
<line x1="29.7" y1="268.4" x2="31.2" y2="268.4" stroke="#000" stroke-width="0.9" />
<line x1="29.7" y1="267.41" x2="31.2" y2="267.41" stroke="#000" stroke-width="0.9" />
<line x1="29.7" y1="266.54" x2="31.2" y2="266.54" stroke="#000" stroke-width="0.9" />
<line x1="29.7" y1="294.71" x2="31.2" y2="294.71" stroke="#000" stroke-width="0.9" />
<line x1="29.7" y1="291.71" x2="31.2" y2="291.71" stroke="#000" stroke-width="0.9" />
<line x1="29.7" y1="289.58" x2="31.2" y2="289.58" stroke="#000" stroke-width="0.9" />
<line x1="29.7" y1="287.93" x2="31.2" y2="287.93" stroke="#000" stroke-width="0.9" />
<line x1="29.7" y1="286.58" x2="31.2" y2="286.58" stroke="#000" stroke-width="0.9" />
<line x1="29.7" y1="285.44" x2="31.2" y2="285.44" stroke="#000" stroke-width="0.9" />
<line x1="29.7" y1="284.45" x2="31.2" y2="284.45" stroke="#000" stroke-width="0.9" />
<line x1="29.7" y1="283.58" x2="31.2" y2="283.58" stroke="#000" stroke-width="0.9" />
<line x1="29.7" y1="311.75" x2="31.2" y2="311.75" stroke="#000" stroke-width="0.9" />
<line x1="29.7" y1="308.75" x2="31.2" y2="308.75" stroke="#000" stroke-width="0.9" />
<line x1="29.7" y1="306.62" x2="31.2" y2="306.62" stroke="#000" stroke-width="0.9" />
<line x1="29.7" y1="304.97" x2="31.2" y2="304.97" stroke="#000" stroke-width="0.9" />
<line x1="29.7" y1="303.62" x2="31.2" y2="303.62" stroke="#000" stroke-width="0.9" />
<line x1="29.7" y1="302.48" x2="31.2" y2="302.48" stroke="#000" stroke-width="0.9" />
<line x1="29.7" y1="301.49" x2="31.2" y2="301.49" stroke="#000" stroke-width="0.9" />
<line x1="29.7" y1="300.62" x2="31.2" y2="300.62" stroke="#000" stroke-width="0.9" />
<line x1="29.7" y1="328.79" x2="31.2" y2="328.79" stroke="#000" stroke-width="0.9" />
<line x1="29.7" y1="325.79" x2="31.2" y2="325.79" stroke="#000" stroke-width="0.9" />
<line x1="29.7" y1="323.66" x2="31.2" y2="323.66" stroke="#000" stroke-width="0.9" />
<line x1="29.7" y1="322.01" x2="31.2" y2="322.01" stroke="#000" stroke-width="0.9" />
<line x1="29.7" y1="320.66" x2="31.2" y2="320.66" stroke="#000" stroke-width="0.9" />
<line x1="29.7" y1="319.52" x2="31.2" y2="319.52" stroke="#000" stroke-width="0.9" />
<line x1="29.7" y1="318.53" x2="31.2" y2="318.53" stroke="#000" stroke-width="0.9" />
<line x1="29.7" y1="317.66" x2="31.2" y2="317.66" stroke="#000" stroke-width="0.9" />
<line x1="29.7" y1="345.83" x2="31.2" y2="345.83" stroke="#000" stroke-width="0.9" />
<line x1="29.7" y1="342.83" x2="31.2" y2="342.83" stroke="#000" stroke-width="0.9" />
<line x1="29.7" y1="340.7" x2="31.2" y2="340.7" stroke="#000" stroke-width="0.9" />
<line x1="29.7" y1="339.05" x2="31.2" y2="339.05" stroke="#000" stroke-width="0.9" />
<line x1="29.7" y1="337.7" x2="31.2" y2="337.7" stroke="#000" stroke-width="0.9" />
<line x1="29.7" y1="336.56" x2="31.2" y2="336.56" stroke="#000" stroke-width="0.9" />
<line x1="29.7" y1="335.57" x2="31.2" y2="335.57" stroke="#000" stroke-width="0.9" />
<line x1="29.7" y1="334.7" x2="31.2" y2="334.7" stroke="#000" stroke-width="0.9" />
<line x1="29.7" y1="362.87" x2="31.2" y2="362.87" stroke="#000" stroke-width="0.9" />
<line x1="29.7" y1="359.87" x2="31.2" y2="359.87" stroke="#000" stroke-width="0.9" />
<line x1="29.7" y1="357.74" x2="31.2" y2="357.74" stroke="#000" stroke-width="0.9" />
<line x1="29.7" y1="356.09" x2="31.2" y2="356.09" stroke="#000" stroke-width="0.9" />
<line x1="29.7" y1="354.74" x2="31.2" y2="354.74" stroke="#000" stroke-width="0.9" />
<line x1="29.7" y1="353.6" x2="31.2" y2="353.6" stroke="#000" stroke-width="0.9" />
<line x1="29.7" y1="352.61" x2="31.2" y2="352.61" stroke="#000" stroke-width="0.9" />
<line x1="29.7" y1="351.74" x2="31.2" y2="351.74" stroke="#000" stroke-width="0.9" />
<line x1="29.7" y1="209.51" x2="31.2" y2="209.51" stroke="#000" stroke-width="0.9" />
<line x1="29.7" y1="206.51" x2="31.2" y2="206.51" stroke="#000" stroke-width="0.9" />
<line x1="29.7" y1="204.38" x2="31.2" y2="204.38" stroke="#000" stroke-width="0.9" />
<line x1="29.7" y1="202.73" x2="31.2" y2="202.73" stroke="#000" stroke-width="0.9" />
<line x1="29.7" y1="368" x2="29.7" y2="365.4" stroke="#000" stroke-width="1" />
<line x1="68.45" y1="368" x2="68.45" y2="365.4" stroke="#000" stroke-width="1" />
<line x1="107.2" y1="368" x2="107.2" y2="365.4" stroke="#000" stroke-width="1" />
<line x1="145.95" y1="368" x2="145.95" y2="365.4" stroke="#000" stroke-width="1" />
<line x1="184.7" y1="368" x2="184.7" y2="365.4" stroke="#000" stroke-width="1" />
<line x1="223.45" y1="368" x2="223.45" y2="365.4" stroke="#000" stroke-width="1" />
<line x1="49.08" y1="368" x2="49.08" y2="366.4" stroke="#000" stroke-width="1" />
<line x1="87.83" y1="368" x2="87.83" y2="366.4" stroke="#000" stroke-width="1" />
<line x1="126.58" y1="368" x2="126.58" y2="366.4" stroke="#000" stroke-width="1" />
<line x1="165.32" y1="368" x2="165.32" y2="366.4" stroke="#000" stroke-width="1" />
<line x1="204.07" y1="368" x2="204.07" y2="366.4" stroke="#000" stroke-width="1" />
<text x="26.5" y="216.94" font-family="Liberation Sans, sans-serif" font-size="7.0" font-weight="bold" fill="#000" text-anchor="end" textLength="11.3" lengthAdjust="spacingAndGlyphs">0.01</text>
<text x="26.5" y="233.98" font-family="Liberation Sans, sans-serif" font-size="7.0" font-weight="bold" fill="#000" text-anchor="end" textLength="11.3" lengthAdjust="spacingAndGlyphs">1E-3</text>
<text x="26.5" y="251.02" font-family="Liberation Sans, sans-serif" font-size="7.0" font-weight="bold" fill="#000" text-anchor="end" textLength="11.3" lengthAdjust="spacingAndGlyphs">1E-4</text>
<text x="26.5" y="268.06" font-family="Liberation Sans, sans-serif" font-size="7.0" font-weight="bold" fill="#000" text-anchor="end" textLength="11.3" lengthAdjust="spacingAndGlyphs">1E-5</text>
<text x="26.5" y="285.1" font-family="Liberation Sans, sans-serif" font-size="7.0" font-weight="bold" fill="#000" text-anchor="end" textLength="11.3" lengthAdjust="spacingAndGlyphs">1E-6</text>
<text x="26.5" y="302.14" font-family="Liberation Sans, sans-serif" font-size="7.0" font-weight="bold" fill="#000" text-anchor="end" textLength="11.3" lengthAdjust="spacingAndGlyphs">1E-7</text>
<text x="26.5" y="319.18" font-family="Liberation Sans, sans-serif" font-size="7.0" font-weight="bold" fill="#000" text-anchor="end" textLength="11.3" lengthAdjust="spacingAndGlyphs">1E-8</text>
<text x="26.5" y="336.22" font-family="Liberation Sans, sans-serif" font-size="7.0" font-weight="bold" fill="#000" text-anchor="end" textLength="11.3" lengthAdjust="spacingAndGlyphs">1E-9</text>
<text x="26.5" y="353.26" font-family="Liberation Sans, sans-serif" font-size="7.0" font-weight="bold" fill="#000" text-anchor="end" textLength="14" lengthAdjust="spacingAndGlyphs">1E-10</text>
<text x="26.5" y="370.3" font-family="Liberation Sans, sans-serif" font-size="7.0" font-weight="bold" fill="#000" text-anchor="end" textLength="14" lengthAdjust="spacingAndGlyphs">1E-11</text>
<text x="29.3" y="376.8" font-family="Liberation Sans, sans-serif" font-size="6.5" font-weight="bold" fill="#000" text-anchor="middle">-1.0</text>
<text x="68.05" y="376.8" font-family="Liberation Sans, sans-serif" font-size="6.5" font-weight="bold" fill="#000" text-anchor="middle">-0.5</text>
<text x="106.8" y="376.8" font-family="Liberation Sans, sans-serif" font-size="6.5" font-weight="bold" fill="#000" text-anchor="middle">0.0</text>
<text x="145.55" y="376.8" font-family="Liberation Sans, sans-serif" font-size="6.5" font-weight="bold" fill="#000" text-anchor="middle">0.5</text>
<text x="184.3" y="376.8" font-family="Liberation Sans, sans-serif" font-size="6.5" font-weight="bold" fill="#000" text-anchor="middle">1.0</text>
<text x="223.05" y="376.8" font-family="Liberation Sans, sans-serif" font-size="6.5" font-weight="bold" fill="#000" text-anchor="middle">1.5</text>
<polyline points="30.3,289.7 31.69,289.94 33.52,290.25 35.7,290.62 38.12,291.04 40.71,291.48 43.37,291.93 46,292.38 48.5,292.8 51.01,293.22 53.68,293.66 56.43,294.11 59.19,294.56 61.89,295 64.46,295.43 66.82,295.83 68.9,296.2 70.69,296.52 72.23,296.79 73.59,297.04 74.81,297.27 75.94,297.5 77.01,297.76 78.08,298.05 79.2,298.4 80.34,298.8 81.45,299.24 82.52,299.71 83.56,300.21 84.57,300.72 85.55,301.24 86.49,301.77 87.4,302.3 88.28,302.84 89.13,303.41 89.96,304 90.74,304.59 91.5,305.18 92.21,305.75 92.88,306.3 93.5,306.8 94.07,307.24 94.58,307.61 95.05,307.95 95.47,308.28 95.88,308.62 96.26,309 96.63,309.45 97,310 97.36,310.65 97.71,311.38 98.03,312.17 98.34,313.01 98.64,313.88 98.93,314.76 99.22,315.64 99.5,316.5 99.79,317.4 100.08,318.38 100.37,319.4 100.66,320.41 100.92,321.37 101.15,322.23 101.35,322.96 101.5,323.5" fill="none" stroke="#000" stroke-width="3.8" stroke-linejoin="round" stroke-linecap="round" />
<polyline points="106.5,313.5 106.73,313.19 107.03,312.77 107.38,312.27 107.78,311.72 108.21,311.14 108.64,310.56 109.08,310 109.5,309.5 109.9,309.04 110.3,308.59 110.71,308.15 111.12,307.71 111.56,307.28 112.01,306.86 112.49,306.43 113,306 113.53,305.56 114.08,305.12 114.65,304.67 115.24,304.23 115.86,303.8 116.52,303.38 117.24,302.98 118,302.6 118.83,302.25 119.74,301.92 120.69,301.62 121.69,301.32 122.7,301.04 123.72,300.76 124.72,300.48 125.7,300.2 126.65,299.91 127.6,299.61 128.55,299.31 129.5,299.01 130.45,298.73 131.4,298.46 132.35,298.22 133.3,298 134.26,297.81 135.22,297.65 136.18,297.52 137.14,297.39 138.11,297.29 139.07,297.19 140.04,297.09 141,297 141.97,296.92 142.96,296.86 143.95,296.81 144.94,296.77 145.92,296.72 146.87,296.67 147.8,296.6 148.7,296.5 149.56,296.38 150.4,296.24 151.22,296.08 152.02,295.92 152.79,295.74 153.55,295.56 154.28,295.38 155,295.2 155.69,295.02 156.34,294.85 156.96,294.68 157.57,294.51 158.17,294.32 158.77,294.11 159.37,293.87 160,293.6 160.65,293.29 161.31,292.95 161.99,292.58 162.66,292.19 163.33,291.79 163.98,291.38 164.61,290.98 165.2,290.6 165.76,290.23 166.3,289.88 166.82,289.52 167.32,289.17 167.8,288.81 168.28,288.43 168.74,288.03 169.2,287.6 169.64,287.17 170.06,286.74 170.46,286.31 170.85,285.86 171.24,285.37 171.64,284.83 172.06,284.21 172.5,283.5 172.96,282.7 173.43,281.81 173.9,280.85 174.39,279.84 174.9,278.78 175.41,277.7 175.95,276.6 176.5,275.5 177.06,274.43 177.63,273.37 178.21,272.31 178.81,271.22 179.43,270.07 180.08,268.83 180.77,267.48 181.5,266 182.3,264.33 183.18,262.48 184.11,260.5 185.06,258.45 186.01,256.37 186.93,254.32 187.8,252.34 188.6,250.5 189.33,248.74 190.02,246.98 190.68,245.26 191.31,243.58 191.9,241.98 192.46,240.47 192.99,239.07 193.5,237.8 193.96,236.69 194.37,235.73 194.74,234.88 195.09,234.12 195.42,233.43 195.76,232.76 196.11,232.09 196.5,231.4 196.9,230.7 197.3,230.04 197.71,229.4 198.12,228.78 198.56,228.16 199.01,227.55 199.49,226.93 200,226.3 200.55,225.65 201.13,224.97 201.74,224.3 202.38,223.62 203.02,222.95 203.68,222.3 204.34,221.68 205,221.1 205.66,220.55 206.34,220.02 207.03,219.51 207.72,219.02 208.42,218.55 209.11,218.11 209.81,217.69 210.5,217.3 211.18,216.94 211.84,216.61 212.5,216.31 213.16,216.03 213.83,215.76 214.52,215.5 215.24,215.25 216,215 216.85,214.74 217.81,214.47 218.82,214.21 219.84,213.96 220.82,213.72 221.71,213.51 222.45,213.34 223,213.2" fill="none" stroke="#000" stroke-width="3.8" stroke-linejoin="round" stroke-linecap="round" />
<polyline points="101.5,323.5 102.9,329.5 104.2,336.5 104.6,328 105,319 106.5,313.5" fill="none" stroke="#000" stroke-width="1.9" stroke-linejoin="round" stroke-linecap="round" />
<circle cx="102.9" cy="329.5" r="1.5" fill="#fff" stroke="#000" stroke-width="1.0"/>
<circle cx="104.2" cy="336.5" r="1.5" fill="#fff" stroke="#000" stroke-width="1.0"/>
<circle cx="104.6" cy="328" r="1.5" fill="#fff" stroke="#000" stroke-width="1.0"/>
<circle cx="105" cy="319" r="1.5" fill="#fff" stroke="#000" stroke-width="1.0"/>
<circle cx="32.02" cy="289.99" r="0.55" fill="#fff" opacity="0.07"/>
<circle cx="32.8" cy="290.13" r="0.55" fill="#fff" opacity="0.07"/>
<circle cx="33.57" cy="290.26" r="0.55" fill="#fff" opacity="0.07"/>
<circle cx="34.35" cy="290.39" r="0.55" fill="#fff" opacity="0.07"/>
<circle cx="35.12" cy="290.52" r="0.55" fill="#fff" opacity="0.07"/>
<circle cx="35.9" cy="290.66" r="0.55" fill="#fff" opacity="0.07"/>
<circle cx="36.67" cy="290.79" r="0.55" fill="#fff" opacity="0.07"/>
<circle cx="37.45" cy="290.92" r="0.55" fill="#fff" opacity="0.07"/>
<circle cx="38.22" cy="291.05" r="0.55" fill="#fff" opacity="0.07"/>
<circle cx="39" cy="291.19" r="0.55" fill="#fff" opacity="0.07"/>
<circle cx="39.77" cy="291.32" r="0.55" fill="#fff" opacity="0.07"/>
<circle cx="40.55" cy="291.45" r="0.55" fill="#fff" opacity="0.07"/>
<circle cx="41.32" cy="291.58" r="0.55" fill="#fff" opacity="0.07"/>
<circle cx="42.1" cy="291.72" r="0.55" fill="#fff" opacity="0.07"/>
<circle cx="42.87" cy="291.85" r="0.55" fill="#fff" opacity="0.07"/>
<circle cx="43.65" cy="291.98" r="0.55" fill="#fff" opacity="0.07"/>
<circle cx="44.42" cy="292.11" r="0.55" fill="#fff" opacity="0.07"/>
<circle cx="45.2" cy="292.24" r="0.55" fill="#fff" opacity="0.07"/>
<circle cx="45.97" cy="292.37" r="0.55" fill="#fff" opacity="0.07"/>
<circle cx="46.75" cy="292.5" r="0.55" fill="#fff" opacity="0.07"/>
<circle cx="47.52" cy="292.64" r="0.55" fill="#fff" opacity="0.07"/>
<circle cx="48.3" cy="292.77" r="0.55" fill="#fff" opacity="0.07"/>
<circle cx="49.07" cy="292.9" r="0.55" fill="#fff" opacity="0.07"/>
<circle cx="49.85" cy="293.02" r="0.55" fill="#fff" opacity="0.07"/>
<circle cx="50.62" cy="293.15" r="0.55" fill="#fff" opacity="0.07"/>
<circle cx="51.4" cy="293.28" r="0.55" fill="#fff" opacity="0.07"/>
<circle cx="52.17" cy="293.41" r="0.55" fill="#fff" opacity="0.07"/>
<circle cx="52.95" cy="293.54" r="0.55" fill="#fff" opacity="0.07"/>
<circle cx="53.72" cy="293.66" r="0.55" fill="#fff" opacity="0.07"/>
<circle cx="54.5" cy="293.79" r="0.55" fill="#fff" opacity="0.07"/>
<circle cx="55.27" cy="293.92" r="0.55" fill="#fff" opacity="0.07"/>
<circle cx="56.05" cy="294.04" r="0.55" fill="#fff" opacity="0.07"/>
<circle cx="56.82" cy="294.17" r="0.55" fill="#fff" opacity="0.07"/>
<circle cx="57.6" cy="294.3" r="0.55" fill="#fff" opacity="0.07"/>
<circle cx="58.37" cy="294.42" r="0.55" fill="#fff" opacity="0.07"/>
<circle cx="59.15" cy="294.55" r="0.55" fill="#fff" opacity="0.07"/>
<circle cx="59.92" cy="294.68" r="0.55" fill="#fff" opacity="0.07"/>
<circle cx="60.7" cy="294.8" r="0.55" fill="#fff" opacity="0.07"/>
<circle cx="61.47" cy="294.93" r="0.55" fill="#fff" opacity="0.07"/>
<circle cx="62.25" cy="295.06" r="0.55" fill="#fff" opacity="0.07"/>
<circle cx="63.02" cy="295.19" r="0.55" fill="#fff" opacity="0.07"/>
<circle cx="63.8" cy="295.32" r="0.55" fill="#fff" opacity="0.07"/>
<circle cx="64.57" cy="295.45" r="0.55" fill="#fff" opacity="0.07"/>
<circle cx="65.35" cy="295.58" r="0.55" fill="#fff" opacity="0.07"/>
<circle cx="66.12" cy="295.71" r="0.55" fill="#fff" opacity="0.07"/>
<circle cx="66.9" cy="295.84" r="0.55" fill="#fff" opacity="0.07"/>
<circle cx="67.67" cy="295.98" r="0.55" fill="#fff" opacity="0.07"/>
<circle cx="68.45" cy="296.12" r="0.55" fill="#fff" opacity="0.07"/>
<circle cx="69.22" cy="296.26" r="0.55" fill="#fff" opacity="0.07"/>
<circle cx="70" cy="296.4" r="0.55" fill="#fff" opacity="0.07"/>
<circle cx="70.77" cy="296.54" r="0.55" fill="#fff" opacity="0.07"/>
<circle cx="71.55" cy="296.67" r="0.55" fill="#fff" opacity="0.07"/>
<circle cx="72.33" cy="296.81" r="0.55" fill="#fff" opacity="0.07"/>
<circle cx="73.1" cy="296.95" r="0.55" fill="#fff" opacity="0.07"/>
<circle cx="73.88" cy="297.09" r="0.55" fill="#fff" opacity="0.07"/>
<circle cx="74.65" cy="297.24" r="0.55" fill="#fff" opacity="0.07"/>
<circle cx="75.43" cy="297.4" r="0.55" fill="#fff" opacity="0.07"/>
<circle cx="76.2" cy="297.57" r="0.55" fill="#fff" opacity="0.07"/>
<circle cx="76.98" cy="297.75" r="0.55" fill="#fff" opacity="0.07"/>
<circle cx="77.75" cy="297.96" r="0.55" fill="#fff" opacity="0.07"/>
<circle cx="78.53" cy="298.19" r="0.55" fill="#fff" opacity="0.07"/>
<circle cx="79.3" cy="298.44" r="0.55" fill="#fff" opacity="0.07"/>
<circle cx="80.08" cy="298.71" r="0.55" fill="#fff" opacity="0.07"/>
<circle cx="80.85" cy="299" r="0.55" fill="#fff" opacity="0.07"/>
<circle cx="81.63" cy="299.32" r="0.55" fill="#fff" opacity="0.07"/>
<circle cx="82.4" cy="299.66" r="0.55" fill="#fff" opacity="0.07"/>
<circle cx="83.18" cy="300.02" r="0.55" fill="#fff" opacity="0.07"/>
<circle cx="83.95" cy="300.4" r="0.55" fill="#fff" opacity="0.07"/>
<circle cx="84.73" cy="300.8" r="0.55" fill="#fff" opacity="0.07"/>
<circle cx="85.5" cy="301.22" r="0.55" fill="#fff" opacity="0.07"/>
<circle cx="86.28" cy="301.65" r="0.55" fill="#fff" opacity="0.07"/>
<circle cx="87.05" cy="302.1" r="0.55" fill="#fff" opacity="0.07"/>
<circle cx="87.83" cy="302.56" r="0.55" fill="#fff" opacity="0.07"/>
<circle cx="88.6" cy="303.06" r="0.55" fill="#fff" opacity="0.07"/>
<circle cx="89.38" cy="303.59" r="0.55" fill="#fff" opacity="0.07"/>
<circle cx="90.15" cy="304.15" r="0.55" fill="#fff" opacity="0.07"/>
<circle cx="90.93" cy="304.74" r="0.55" fill="#fff" opacity="0.07"/>
<circle cx="91.7" cy="305.35" r="0.55" fill="#fff" opacity="0.07"/>
<circle cx="92.48" cy="305.97" r="0.55" fill="#fff" opacity="0.07"/>
<circle cx="93.25" cy="306.6" r="0.55" fill="#fff" opacity="0.07"/>
<circle cx="94.03" cy="307.21" r="0.55" fill="#fff" opacity="0.07"/>
<circle cx="94.8" cy="307.77" r="0.55" fill="#fff" opacity="0.07"/>
<circle cx="95.58" cy="308.36" r="0.55" fill="#fff" opacity="0.07"/>
<circle cx="96.35" cy="309.11" r="0.55" fill="#fff" opacity="0.07"/>
<circle cx="97.13" cy="310.22" r="0.55" fill="#fff" opacity="0.15"/>
<circle cx="97.9" cy="311.85" r="0.55" fill="#fff" opacity="0.15"/>
<circle cx="98.68" cy="313.98" r="0.55" fill="#fff" opacity="0.15"/>
<circle cx="99.45" cy="316.35" r="0.55" fill="#fff" opacity="0.15"/>
<circle cx="100.23" cy="318.88" r="0.55" fill="#fff" opacity="0.15"/>
<circle cx="101" cy="321.67" r="0.55" fill="#fff" opacity="0.15"/>
<circle cx="107.2" cy="312.53" r="0.55" fill="#fff" opacity="0.07"/>
<circle cx="107.98" cy="311.45" r="0.55" fill="#fff" opacity="0.07"/>
<circle cx="108.75" cy="310.42" r="0.55" fill="#fff" opacity="0.07"/>
<circle cx="109.53" cy="309.47" r="0.55" fill="#fff" opacity="0.07"/>
<circle cx="110.3" cy="308.59" r="0.55" fill="#fff" opacity="0.07"/>
<circle cx="111.08" cy="307.76" r="0.55" fill="#fff" opacity="0.07"/>
<circle cx="111.85" cy="307.01" r="0.55" fill="#fff" opacity="0.07"/>
<circle cx="112.63" cy="306.31" r="0.55" fill="#fff" opacity="0.07"/>
<circle cx="113.4" cy="305.67" r="0.55" fill="#fff" opacity="0.07"/>
<circle cx="114.18" cy="305.05" r="0.55" fill="#fff" opacity="0.07"/>
<circle cx="114.95" cy="304.45" r="0.55" fill="#fff" opacity="0.07"/>
<circle cx="115.73" cy="303.89" r="0.55" fill="#fff" opacity="0.07"/>
<circle cx="116.5" cy="303.39" r="0.55" fill="#fff" opacity="0.07"/>
<circle cx="117.28" cy="302.96" r="0.55" fill="#fff" opacity="0.07"/>
<circle cx="118.05" cy="302.58" r="0.55" fill="#fff" opacity="0.07"/>
<circle cx="118.83" cy="302.25" r="0.55" fill="#fff" opacity="0.07"/>
<circle cx="119.6" cy="301.97" r="0.55" fill="#fff" opacity="0.07"/>
<circle cx="120.38" cy="301.72" r="0.55" fill="#fff" opacity="0.07"/>
<circle cx="121.15" cy="301.48" r="0.55" fill="#fff" opacity="0.07"/>
<circle cx="121.93" cy="301.26" r="0.55" fill="#fff" opacity="0.07"/>
<circle cx="122.7" cy="301.04" r="0.55" fill="#fff" opacity="0.07"/>
<circle cx="123.48" cy="300.83" r="0.55" fill="#fff" opacity="0.07"/>
<circle cx="124.25" cy="300.62" r="0.55" fill="#fff" opacity="0.07"/>
<circle cx="125.03" cy="300.4" r="0.55" fill="#fff" opacity="0.07"/>
<circle cx="125.8" cy="300.17" r="0.55" fill="#fff" opacity="0.07"/>
<circle cx="126.58" cy="299.93" r="0.55" fill="#fff" opacity="0.07"/>
<circle cx="127.35" cy="299.69" r="0.55" fill="#fff" opacity="0.07"/>
<circle cx="128.13" cy="299.44" r="0.55" fill="#fff" opacity="0.07"/>
<circle cx="128.9" cy="299.2" r="0.55" fill="#fff" opacity="0.07"/>
<circle cx="129.68" cy="298.96" r="0.55" fill="#fff" opacity="0.07"/>
<circle cx="130.45" cy="298.73" r="0.55" fill="#fff" opacity="0.07"/>
<circle cx="131.23" cy="298.51" r="0.55" fill="#fff" opacity="0.07"/>
<circle cx="132" cy="298.31" r="0.55" fill="#fff" opacity="0.07"/>
<circle cx="132.78" cy="298.12" r="0.55" fill="#fff" opacity="0.07"/>
<circle cx="133.55" cy="297.95" r="0.55" fill="#fff" opacity="0.07"/>
<circle cx="134.33" cy="297.8" r="0.55" fill="#fff" opacity="0.07"/>
<circle cx="135.1" cy="297.67" r="0.55" fill="#fff" opacity="0.07"/>
<circle cx="135.88" cy="297.56" r="0.55" fill="#fff" opacity="0.07"/>
<circle cx="136.65" cy="297.46" r="0.55" fill="#fff" opacity="0.07"/>
<circle cx="137.43" cy="297.36" r="0.55" fill="#fff" opacity="0.07"/>
<circle cx="138.2" cy="297.28" r="0.55" fill="#fff" opacity="0.07"/>
<circle cx="138.98" cy="297.2" r="0.55" fill="#fff" opacity="0.07"/>
<circle cx="139.75" cy="297.12" r="0.55" fill="#fff" opacity="0.07"/>
<circle cx="140.53" cy="297.05" r="0.55" fill="#fff" opacity="0.07"/>
<circle cx="141.3" cy="296.98" r="0.55" fill="#fff" opacity="0.07"/>
<circle cx="142.08" cy="296.91" r="0.55" fill="#fff" opacity="0.07"/>
<circle cx="142.85" cy="296.87" r="0.55" fill="#fff" opacity="0.07"/>
<circle cx="143.63" cy="296.83" r="0.55" fill="#fff" opacity="0.07"/>
<circle cx="144.4" cy="296.79" r="0.55" fill="#fff" opacity="0.07"/>
<circle cx="145.18" cy="296.76" r="0.55" fill="#fff" opacity="0.07"/>
<circle cx="145.95" cy="296.72" r="0.55" fill="#fff" opacity="0.07"/>
<circle cx="146.73" cy="296.68" r="0.55" fill="#fff" opacity="0.07"/>
<circle cx="147.5" cy="296.62" r="0.55" fill="#fff" opacity="0.07"/>
<circle cx="148.28" cy="296.55" r="0.55" fill="#fff" opacity="0.07"/>
<circle cx="149.05" cy="296.45" r="0.55" fill="#fff" opacity="0.07"/>
<circle cx="149.83" cy="296.33" r="0.55" fill="#fff" opacity="0.07"/>
<circle cx="150.6" cy="296.2" r="0.55" fill="#fff" opacity="0.07"/>
<circle cx="151.38" cy="296.05" r="0.55" fill="#fff" opacity="0.07"/>
<circle cx="152.15" cy="295.89" r="0.55" fill="#fff" opacity="0.07"/>
<circle cx="152.93" cy="295.71" r="0.55" fill="#fff" opacity="0.07"/>
<circle cx="153.7" cy="295.53" r="0.55" fill="#fff" opacity="0.07"/>
<circle cx="154.48" cy="295.33" r="0.55" fill="#fff" opacity="0.07"/>
<circle cx="155.25" cy="295.14" r="0.55" fill="#fff" opacity="0.07"/>
<circle cx="156.03" cy="294.94" r="0.55" fill="#fff" opacity="0.07"/>
<circle cx="156.8" cy="294.73" r="0.55" fill="#fff" opacity="0.07"/>
<circle cx="157.58" cy="294.5" r="0.55" fill="#fff" opacity="0.07"/>
<circle cx="158.35" cy="294.25" r="0.55" fill="#fff" opacity="0.07"/>
<circle cx="159.13" cy="293.97" r="0.55" fill="#fff" opacity="0.07"/>
<circle cx="159.9" cy="293.64" r="0.55" fill="#fff" opacity="0.07"/>
<circle cx="160.68" cy="293.28" r="0.55" fill="#fff" opacity="0.07"/>
<circle cx="161.45" cy="292.87" r="0.55" fill="#fff" opacity="0.07"/>
<circle cx="162.23" cy="292.44" r="0.55" fill="#fff" opacity="0.07"/>
<circle cx="163" cy="291.98" r="0.55" fill="#fff" opacity="0.07"/>
<circle cx="163.78" cy="291.51" r="0.55" fill="#fff" opacity="0.07"/>
<circle cx="164.55" cy="291.02" r="0.55" fill="#fff" opacity="0.07"/>
<circle cx="165.33" cy="290.52" r="0.55" fill="#fff" opacity="0.07"/>
<circle cx="166.1" cy="290.01" r="0.55" fill="#fff" opacity="0.07"/>
<circle cx="166.88" cy="289.48" r="0.55" fill="#fff" opacity="0.07"/>
<circle cx="167.65" cy="288.92" r="0.55" fill="#fff" opacity="0.07"/>
<circle cx="168.43" cy="288.3" r="0.55" fill="#fff" opacity="0.07"/>
<circle cx="169.2" cy="287.6" r="0.55" fill="#fff" opacity="0.07"/>
<circle cx="169.98" cy="286.83" r="0.55" fill="#fff" opacity="0.07"/>
<circle cx="170.75" cy="285.98" r="0.55" fill="#fff" opacity="0.07"/>
<circle cx="171.53" cy="284.99" r="0.55" fill="#fff" opacity="0.07"/>
<circle cx="172.3" cy="283.82" r="0.55" fill="#fff" opacity="0.15"/>
<circle cx="173.08" cy="282.48" r="0.55" fill="#fff" opacity="0.15"/>
<circle cx="173.85" cy="280.96" r="0.55" fill="#fff" opacity="0.15"/>
<circle cx="174.63" cy="279.35" r="0.55" fill="#fff" opacity="0.15"/>
<circle cx="175.4" cy="277.72" r="0.55" fill="#fff" opacity="0.15"/>
<circle cx="176.18" cy="276.15" r="0.55" fill="#fff" opacity="0.15"/>
<circle cx="176.95" cy="274.64" r="0.55" fill="#fff" opacity="0.15"/>
<circle cx="177.73" cy="273.2" r="0.55" fill="#fff" opacity="0.15"/>
<circle cx="178.5" cy="271.78" r="0.55" fill="#fff" opacity="0.15"/>
<circle cx="179.28" cy="270.35" r="0.55" fill="#fff" opacity="0.15"/>
<circle cx="180.05" cy="268.89" r="0.55" fill="#fff" opacity="0.15"/>
<circle cx="180.83" cy="267.37" r="0.55" fill="#fff" opacity="0.15"/>
<circle cx="181.6" cy="265.79" r="0.55" fill="#fff" opacity="0.15"/>
<circle cx="182.38" cy="264.18" r="0.55" fill="#fff" opacity="0.15"/>
<circle cx="183.15" cy="262.54" r="0.55" fill="#fff" opacity="0.15"/>
<circle cx="183.93" cy="260.89" r="0.55" fill="#fff" opacity="0.15"/>
<circle cx="184.7" cy="259.22" r="0.55" fill="#fff" opacity="0.15"/>
<circle cx="185.48" cy="257.53" r="0.55" fill="#fff" opacity="0.15"/>
<circle cx="186.25" cy="255.83" r="0.55" fill="#fff" opacity="0.15"/>
<circle cx="187.03" cy="254.1" r="0.55" fill="#fff" opacity="0.15"/>
<circle cx="187.8" cy="252.35" r="0.55" fill="#fff" opacity="0.15"/>
<circle cx="188.58" cy="250.56" r="0.55" fill="#fff" opacity="0.15"/>
<circle cx="189.35" cy="248.69" r="0.55" fill="#fff" opacity="0.15"/>
<circle cx="190.13" cy="246.72" r="0.55" fill="#fff" opacity="0.15"/>
<circle cx="190.9" cy="244.67" r="0.55" fill="#fff" opacity="0.15"/>
<circle cx="191.68" cy="242.58" r="0.55" fill="#fff" opacity="0.15"/>
<circle cx="192.45" cy="240.49" r="0.55" fill="#fff" opacity="0.15"/>
<circle cx="193.23" cy="238.49" r="0.55" fill="#fff" opacity="0.15"/>
<circle cx="194" cy="236.6" r="0.55" fill="#fff" opacity="0.15"/>
<circle cx="194.78" cy="234.81" r="0.55" fill="#fff" opacity="0.15"/>
<circle cx="195.55" cy="233.17" r="0.55" fill="#fff" opacity="0.15"/>
<circle cx="196.33" cy="231.72" r="0.55" fill="#fff" opacity="0.15"/>
<circle cx="197.1" cy="230.38" r="0.55" fill="#fff" opacity="0.07"/>
<circle cx="197.88" cy="229.15" r="0.55" fill="#fff" opacity="0.07"/>
<circle cx="198.65" cy="228.04" r="0.55" fill="#fff" opacity="0.07"/>
<circle cx="199.43" cy="227.01" r="0.55" fill="#fff" opacity="0.07"/>
<circle cx="200.2" cy="226.06" r="0.55" fill="#fff" opacity="0.07"/>
<circle cx="200.98" cy="225.16" r="0.55" fill="#fff" opacity="0.07"/>
<circle cx="201.75" cy="224.29" r="0.55" fill="#fff" opacity="0.07"/>
<circle cx="202.53" cy="223.46" r="0.55" fill="#fff" opacity="0.07"/>
<circle cx="203.3" cy="222.68" r="0.55" fill="#fff" opacity="0.07"/>
<circle cx="204.08" cy="221.93" r="0.55" fill="#fff" opacity="0.07"/>
<circle cx="204.85" cy="221.23" r="0.55" fill="#fff" opacity="0.07"/>
<circle cx="205.63" cy="220.58" r="0.55" fill="#fff" opacity="0.07"/>
<circle cx="206.4" cy="219.97" r="0.55" fill="#fff" opacity="0.07"/>
<circle cx="207.18" cy="219.4" r="0.55" fill="#fff" opacity="0.07"/>
<circle cx="207.95" cy="218.86" r="0.55" fill="#fff" opacity="0.07"/>
<circle cx="208.73" cy="218.36" r="0.55" fill="#fff" opacity="0.07"/>
<circle cx="209.5" cy="217.88" r="0.55" fill="#fff" opacity="0.07"/>
<circle cx="210.28" cy="217.43" r="0.55" fill="#fff" opacity="0.07"/>
<circle cx="211.05" cy="217.01" r="0.55" fill="#fff" opacity="0.07"/>
<circle cx="211.83" cy="216.62" r="0.55" fill="#fff" opacity="0.07"/>
<circle cx="212.6" cy="216.26" r="0.55" fill="#fff" opacity="0.07"/>
<circle cx="213.38" cy="215.94" r="0.55" fill="#fff" opacity="0.07"/>
<circle cx="214.15" cy="215.64" r="0.55" fill="#fff" opacity="0.07"/>
<circle cx="214.93" cy="215.36" r="0.55" fill="#fff" opacity="0.07"/>
<circle cx="215.7" cy="215.1" r="0.55" fill="#fff" opacity="0.07"/>
<circle cx="216.48" cy="214.85" r="0.55" fill="#fff" opacity="0.07"/>
<circle cx="217.25" cy="214.63" r="0.55" fill="#fff" opacity="0.07"/>
<circle cx="218.03" cy="214.42" r="0.55" fill="#fff" opacity="0.07"/>
<circle cx="218.8" cy="214.22" r="0.55" fill="#fff" opacity="0.07"/>
<circle cx="219.58" cy="214.02" r="0.55" fill="#fff" opacity="0.07"/>
<circle cx="220.35" cy="213.83" r="0.55" fill="#fff" opacity="0.07"/>
<circle cx="221.13" cy="213.65" r="0.55" fill="#fff" opacity="0.07"/>
<circle cx="221.9" cy="213.47" r="0.55" fill="#fff" opacity="0.07"/>
<circle cx="222.68" cy="213.28" r="0.55" fill="#fff" opacity="0.07"/>
<polyline points="30.3,290.7 31.69,290.94 33.52,291.25 35.7,291.62 38.12,292.04 40.71,292.48 43.37,292.93 46,293.38 48.5,293.8 51.01,294.22 53.68,294.66 56.43,295.11 59.19,295.56 61.89,296 64.46,296.43 66.82,296.83 68.9,297.2 70.69,297.52 72.23,297.79 73.59,298.04 74.81,298.27 75.94,298.5 77.01,298.76 78.08,299.05 79.2,299.4 80.34,299.8 81.45,300.24 82.52,300.71 83.56,301.21 84.57,301.72 85.55,302.24 86.49,302.77 87.4,303.3 88.28,303.84 89.13,304.42 89.95,305.01 90.74,305.6 91.49,306.19 92.2,306.76 92.87,307.3 93.5,307.8 94.08,308.24 94.6,308.61 95.08,308.95 95.52,309.27 95.93,309.61 96.33,309.98 96.71,310.4 97.1,310.9 97.48,311.47 97.84,312.1 98.18,312.76 98.51,313.46 98.82,314.2 99.12,314.97 99.42,315.77 99.7,316.6 99.98,317.52 100.27,318.56 100.55,319.68 100.81,320.81 101.06,321.89 101.28,322.87 101.46,323.69 101.6,324.3" fill="none" stroke="#ff0000" stroke-width="3.8" stroke-linejoin="round" stroke-linecap="round" />
<polyline points="106.7,314.1 106.95,313.83 107.28,313.46 107.67,313.03 108.1,312.54 108.56,312.04 109.03,311.53 109.48,311.04 109.9,310.6 110.29,310.19 110.66,309.79 111.03,309.4 111.39,309.01 111.78,308.63 112.18,308.25 112.62,307.88 113.1,307.5 113.61,307.13 114.14,306.76 114.69,306.39 115.27,306.03 115.88,305.66 116.54,305.31 117.24,304.95 118,304.6 118.83,304.25 119.73,303.91 120.69,303.57 121.68,303.24 122.7,302.9 123.72,302.57 124.72,302.24 125.7,301.9 126.65,301.57 127.6,301.24 128.55,300.92 129.5,300.6 130.45,300.27 131.4,299.93 132.35,299.58 133.3,299.2 134.26,298.81 135.22,298.4 136.18,297.98 137.14,297.54 138.11,297.1 139.07,296.64 140.04,296.18 141,295.7 141.97,295.2 142.96,294.68 143.95,294.13 144.94,293.58 145.92,293.03 146.87,292.5 147.8,291.98 148.7,291.5 149.56,291.05 150.4,290.61 151.22,290.2 152.02,289.79 152.79,289.4 153.55,289.03 154.28,288.66 155,288.3 155.69,287.96 156.34,287.64 156.96,287.33 157.57,287.03 158.17,286.74 158.77,286.44 159.37,286.13 160,285.8 160.65,285.46 161.31,285.12 161.99,284.77 162.66,284.42 163.33,284.06 163.98,283.68 164.61,283.3 165.2,282.9 165.75,282.49 166.27,282.07 166.77,281.63 167.24,281.19 167.72,280.73 168.19,280.27 168.68,279.79 169.2,279.3 169.73,278.85 170.25,278.45 170.77,278.06 171.3,277.66 171.85,277.19 172.43,276.61 173.04,275.9 173.7,275 174.41,273.9 175.18,272.62 175.99,271.2 176.82,269.68 177.66,268.09 178.5,266.48 179.32,264.87 180.1,263.3 180.86,261.75 181.62,260.18 182.38,258.58 183.12,256.96 183.85,255.34 184.56,253.72 185.25,252.1 185.9,250.5 186.53,248.86 187.14,247.17 187.73,245.45 188.3,243.75 188.84,242.1 189.36,240.53 189.85,239.09 190.3,237.8 190.7,236.69 191.05,235.73 191.35,234.88 191.64,234.12 191.92,233.43 192.21,232.76 192.53,232.09 192.9,231.4 193.31,230.7 193.74,230.04 194.18,229.4 194.65,228.78 195.13,228.16 195.64,227.55 196.16,226.93 196.7,226.3 197.27,225.65 197.86,224.97 198.48,224.3 199.11,223.62 199.76,222.95 200.41,222.3 201.06,221.68 201.7,221.1 202.33,220.55 202.96,220.04 203.59,219.55 204.22,219.07 204.86,218.62 205.52,218.17 206.2,217.74 206.9,217.3 207.61,216.87 208.32,216.46 209.03,216.06 209.76,215.68 210.53,215.29 211.35,214.9 212.24,214.51 213.2,214.1 214.32,213.66 215.63,213.18 217.05,212.69 218.49,212.2 219.89,211.73 221.16,211.32 222.22,210.96 223,210.7" fill="none" stroke="#ff0000" stroke-width="3.8" stroke-linejoin="round" stroke-linecap="round" />
<polyline points="101.6,324.3 103.3,331.5 104.5,344.6 104.8,333 105.1,321.5 106.7,314.1" fill="none" stroke="#ff0000" stroke-width="1.9" stroke-linejoin="round" stroke-linecap="round" />
<circle cx="103.3" cy="331.5" r="1.5" fill="#fff" stroke="#ff0000" stroke-width="1.0"/>
<circle cx="104.5" cy="344.6" r="1.5" fill="#fff" stroke="#ff0000" stroke-width="1.0"/>
<circle cx="104.8" cy="333" r="1.5" fill="#fff" stroke="#ff0000" stroke-width="1.0"/>
<circle cx="105.1" cy="321.5" r="1.5" fill="#fff" stroke="#ff0000" stroke-width="1.0"/>
<circle cx="32.02" cy="290.99" r="0.55" fill="#fff" opacity="0.27"/>
<circle cx="32.8" cy="291.13" r="0.55" fill="#fff" opacity="0.27"/>
<circle cx="33.57" cy="291.26" r="0.55" fill="#fff" opacity="0.27"/>
<circle cx="34.35" cy="291.39" r="0.55" fill="#fff" opacity="0.27"/>
<circle cx="35.12" cy="291.52" r="0.55" fill="#fff" opacity="0.27"/>
<circle cx="35.9" cy="291.66" r="0.55" fill="#fff" opacity="0.27"/>
<circle cx="36.67" cy="291.79" r="0.55" fill="#fff" opacity="0.27"/>
<circle cx="37.45" cy="291.92" r="0.55" fill="#fff" opacity="0.27"/>
<circle cx="38.22" cy="292.05" r="0.55" fill="#fff" opacity="0.27"/>
<circle cx="39" cy="292.19" r="0.55" fill="#fff" opacity="0.27"/>
<circle cx="39.77" cy="292.32" r="0.55" fill="#fff" opacity="0.27"/>
<circle cx="40.55" cy="292.45" r="0.55" fill="#fff" opacity="0.27"/>
<circle cx="41.32" cy="292.58" r="0.55" fill="#fff" opacity="0.27"/>
<circle cx="42.1" cy="292.72" r="0.55" fill="#fff" opacity="0.27"/>
<circle cx="42.87" cy="292.85" r="0.55" fill="#fff" opacity="0.27"/>
<circle cx="43.65" cy="292.98" r="0.55" fill="#fff" opacity="0.27"/>
<circle cx="44.42" cy="293.11" r="0.55" fill="#fff" opacity="0.27"/>
<circle cx="45.2" cy="293.24" r="0.55" fill="#fff" opacity="0.27"/>
<circle cx="45.97" cy="293.37" r="0.55" fill="#fff" opacity="0.27"/>
<circle cx="46.75" cy="293.5" r="0.55" fill="#fff" opacity="0.27"/>
<circle cx="47.52" cy="293.64" r="0.55" fill="#fff" opacity="0.27"/>
<circle cx="48.3" cy="293.77" r="0.55" fill="#fff" opacity="0.27"/>
<circle cx="49.07" cy="293.9" r="0.55" fill="#fff" opacity="0.27"/>
<circle cx="49.85" cy="294.02" r="0.55" fill="#fff" opacity="0.27"/>
<circle cx="50.62" cy="294.15" r="0.55" fill="#fff" opacity="0.27"/>
<circle cx="51.4" cy="294.28" r="0.55" fill="#fff" opacity="0.27"/>
<circle cx="52.17" cy="294.41" r="0.55" fill="#fff" opacity="0.27"/>
<circle cx="52.95" cy="294.54" r="0.55" fill="#fff" opacity="0.27"/>
<circle cx="53.72" cy="294.66" r="0.55" fill="#fff" opacity="0.27"/>
<circle cx="54.5" cy="294.79" r="0.55" fill="#fff" opacity="0.27"/>
<circle cx="55.27" cy="294.92" r="0.55" fill="#fff" opacity="0.27"/>
<circle cx="56.05" cy="295.04" r="0.55" fill="#fff" opacity="0.27"/>
<circle cx="56.82" cy="295.17" r="0.55" fill="#fff" opacity="0.27"/>
<circle cx="57.6" cy="295.3" r="0.55" fill="#fff" opacity="0.27"/>
<circle cx="58.37" cy="295.42" r="0.55" fill="#fff" opacity="0.27"/>
<circle cx="59.15" cy="295.55" r="0.55" fill="#fff" opacity="0.27"/>
<circle cx="59.92" cy="295.68" r="0.55" fill="#fff" opacity="0.27"/>
<circle cx="60.7" cy="295.8" r="0.55" fill="#fff" opacity="0.27"/>
<circle cx="61.47" cy="295.93" r="0.55" fill="#fff" opacity="0.27"/>
<circle cx="62.25" cy="296.06" r="0.55" fill="#fff" opacity="0.27"/>
<circle cx="63.02" cy="296.19" r="0.55" fill="#fff" opacity="0.27"/>
<circle cx="63.8" cy="296.32" r="0.55" fill="#fff" opacity="0.27"/>
<circle cx="64.57" cy="296.45" r="0.55" fill="#fff" opacity="0.27"/>
<circle cx="65.35" cy="296.58" r="0.55" fill="#fff" opacity="0.27"/>
<circle cx="66.12" cy="296.71" r="0.55" fill="#fff" opacity="0.27"/>
<circle cx="66.9" cy="296.84" r="0.55" fill="#fff" opacity="0.27"/>
<circle cx="67.67" cy="296.98" r="0.55" fill="#fff" opacity="0.27"/>
<circle cx="68.45" cy="297.12" r="0.55" fill="#fff" opacity="0.27"/>
<circle cx="69.22" cy="297.26" r="0.55" fill="#fff" opacity="0.27"/>
<circle cx="70" cy="297.4" r="0.55" fill="#fff" opacity="0.27"/>
<circle cx="70.77" cy="297.54" r="0.55" fill="#fff" opacity="0.27"/>
<circle cx="71.55" cy="297.67" r="0.55" fill="#fff" opacity="0.27"/>
<circle cx="72.33" cy="297.81" r="0.55" fill="#fff" opacity="0.27"/>
<circle cx="73.1" cy="297.95" r="0.55" fill="#fff" opacity="0.27"/>
<circle cx="73.88" cy="298.09" r="0.55" fill="#fff" opacity="0.27"/>
<circle cx="74.65" cy="298.24" r="0.55" fill="#fff" opacity="0.27"/>
<circle cx="75.43" cy="298.4" r="0.55" fill="#fff" opacity="0.27"/>
<circle cx="76.2" cy="298.57" r="0.55" fill="#fff" opacity="0.27"/>
<circle cx="76.98" cy="298.75" r="0.55" fill="#fff" opacity="0.27"/>
<circle cx="77.75" cy="298.96" r="0.55" fill="#fff" opacity="0.27"/>
<circle cx="78.53" cy="299.19" r="0.55" fill="#fff" opacity="0.27"/>
<circle cx="79.3" cy="299.44" r="0.55" fill="#fff" opacity="0.27"/>
<circle cx="80.08" cy="299.71" r="0.55" fill="#fff" opacity="0.27"/>
<circle cx="80.85" cy="300" r="0.55" fill="#fff" opacity="0.27"/>
<circle cx="81.63" cy="300.32" r="0.55" fill="#fff" opacity="0.27"/>
<circle cx="82.4" cy="300.66" r="0.55" fill="#fff" opacity="0.27"/>
<circle cx="83.18" cy="301.02" r="0.55" fill="#fff" opacity="0.27"/>
<circle cx="83.95" cy="301.4" r="0.55" fill="#fff" opacity="0.27"/>
<circle cx="84.73" cy="301.8" r="0.55" fill="#fff" opacity="0.27"/>
<circle cx="85.5" cy="302.22" r="0.55" fill="#fff" opacity="0.27"/>
<circle cx="86.28" cy="302.65" r="0.55" fill="#fff" opacity="0.27"/>
<circle cx="87.05" cy="303.1" r="0.55" fill="#fff" opacity="0.27"/>
<circle cx="87.83" cy="303.56" r="0.55" fill="#fff" opacity="0.27"/>
<circle cx="88.6" cy="304.06" r="0.55" fill="#fff" opacity="0.27"/>
<circle cx="89.38" cy="304.59" r="0.55" fill="#fff" opacity="0.27"/>
<circle cx="90.15" cy="305.16" r="0.55" fill="#fff" opacity="0.27"/>
<circle cx="90.93" cy="305.75" r="0.55" fill="#fff" opacity="0.27"/>
<circle cx="91.7" cy="306.36" r="0.55" fill="#fff" opacity="0.27"/>
<circle cx="92.48" cy="306.98" r="0.55" fill="#fff" opacity="0.27"/>
<circle cx="93.25" cy="307.6" r="0.55" fill="#fff" opacity="0.27"/>
<circle cx="94.03" cy="308.2" r="0.55" fill="#fff" opacity="0.27"/>
<circle cx="94.8" cy="308.75" r="0.55" fill="#fff" opacity="0.27"/>
<circle cx="95.58" cy="309.32" r="0.55" fill="#fff" opacity="0.27"/>
<circle cx="96.35" cy="310" r="0.55" fill="#fff" opacity="0.30"/>
<circle cx="97.13" cy="310.94" r="0.55" fill="#fff" opacity="0.60"/>
<circle cx="97.9" cy="312.22" r="0.55" fill="#fff" opacity="0.60"/>
<circle cx="98.68" cy="313.86" r="0.55" fill="#fff" opacity="0.60"/>
<circle cx="99.45" cy="315.87" r="0.55" fill="#fff" opacity="0.60"/>
<circle cx="100.23" cy="318.4" r="0.55" fill="#fff" opacity="0.60"/>
<circle cx="101" cy="321.63" r="0.55" fill="#fff" opacity="0.60"/>
<circle cx="107.2" cy="313.55" r="0.55" fill="#fff" opacity="0.30"/>
<circle cx="107.98" cy="312.68" r="0.55" fill="#fff" opacity="0.30"/>
<circle cx="108.75" cy="311.83" r="0.55" fill="#fff" opacity="0.30"/>
<circle cx="109.53" cy="310.99" r="0.55" fill="#fff" opacity="0.30"/>
<circle cx="110.3" cy="310.18" r="0.55" fill="#fff" opacity="0.30"/>
<circle cx="111.08" cy="309.35" r="0.55" fill="#fff" opacity="0.27"/>
<circle cx="111.85" cy="308.56" r="0.55" fill="#fff" opacity="0.27"/>
<circle cx="112.63" cy="307.87" r="0.55" fill="#fff" opacity="0.27"/>
<circle cx="113.4" cy="307.28" r="0.55" fill="#fff" opacity="0.27"/>
<circle cx="114.18" cy="306.73" r="0.55" fill="#fff" opacity="0.27"/>
<circle cx="114.95" cy="306.23" r="0.55" fill="#fff" opacity="0.27"/>
<circle cx="115.73" cy="305.76" r="0.55" fill="#fff" opacity="0.27"/>
<circle cx="116.5" cy="305.33" r="0.55" fill="#fff" opacity="0.27"/>
<circle cx="117.28" cy="304.94" r="0.55" fill="#fff" opacity="0.27"/>
<circle cx="118.05" cy="304.58" r="0.55" fill="#fff" opacity="0.27"/>
<circle cx="118.83" cy="304.25" r="0.55" fill="#fff" opacity="0.27"/>
<circle cx="119.6" cy="303.96" r="0.55" fill="#fff" opacity="0.27"/>
<circle cx="120.38" cy="303.68" r="0.55" fill="#fff" opacity="0.27"/>
<circle cx="121.15" cy="303.42" r="0.55" fill="#fff" opacity="0.27"/>
<circle cx="121.93" cy="303.16" r="0.55" fill="#fff" opacity="0.27"/>
<circle cx="122.7" cy="302.9" r="0.55" fill="#fff" opacity="0.27"/>
<circle cx="123.48" cy="302.65" r="0.55" fill="#fff" opacity="0.27"/>
<circle cx="124.25" cy="302.39" r="0.55" fill="#fff" opacity="0.27"/>
<circle cx="125.03" cy="302.13" r="0.55" fill="#fff" opacity="0.27"/>
<circle cx="125.8" cy="301.87" r="0.55" fill="#fff" opacity="0.27"/>
<circle cx="126.58" cy="301.6" r="0.55" fill="#fff" opacity="0.27"/>
<circle cx="127.35" cy="301.33" r="0.55" fill="#fff" opacity="0.27"/>
<circle cx="128.13" cy="301.07" r="0.55" fill="#fff" opacity="0.27"/>
<circle cx="128.9" cy="300.8" r="0.55" fill="#fff" opacity="0.27"/>
<circle cx="129.68" cy="300.54" r="0.55" fill="#fff" opacity="0.27"/>
<circle cx="130.45" cy="300.27" r="0.55" fill="#fff" opacity="0.27"/>
<circle cx="131.23" cy="299.99" r="0.55" fill="#fff" opacity="0.27"/>
<circle cx="132" cy="299.71" r="0.55" fill="#fff" opacity="0.27"/>
<circle cx="132.78" cy="299.41" r="0.55" fill="#fff" opacity="0.27"/>
<circle cx="133.55" cy="299.1" r="0.55" fill="#fff" opacity="0.27"/>
<circle cx="134.33" cy="298.78" r="0.55" fill="#fff" opacity="0.27"/>
<circle cx="135.1" cy="298.45" r="0.55" fill="#fff" opacity="0.27"/>
<circle cx="135.88" cy="298.11" r="0.55" fill="#fff" opacity="0.27"/>
<circle cx="136.65" cy="297.77" r="0.55" fill="#fff" opacity="0.27"/>
<circle cx="137.43" cy="297.41" r="0.55" fill="#fff" opacity="0.27"/>
<circle cx="138.2" cy="297.06" r="0.55" fill="#fff" opacity="0.27"/>
<circle cx="138.98" cy="296.69" r="0.55" fill="#fff" opacity="0.27"/>
<circle cx="139.75" cy="296.32" r="0.55" fill="#fff" opacity="0.27"/>
<circle cx="140.53" cy="295.93" r="0.55" fill="#fff" opacity="0.27"/>
<circle cx="141.3" cy="295.55" r="0.55" fill="#fff" opacity="0.27"/>
<circle cx="142.08" cy="295.15" r="0.55" fill="#fff" opacity="0.27"/>
<circle cx="142.85" cy="294.73" r="0.55" fill="#fff" opacity="0.27"/>
<circle cx="143.63" cy="294.31" r="0.55" fill="#fff" opacity="0.27"/>
<circle cx="144.4" cy="293.88" r="0.55" fill="#fff" opacity="0.27"/>
<circle cx="145.18" cy="293.45" r="0.55" fill="#fff" opacity="0.27"/>
<circle cx="145.95" cy="293.01" r="0.55" fill="#fff" opacity="0.27"/>
<circle cx="146.73" cy="292.58" r="0.55" fill="#fff" opacity="0.27"/>
<circle cx="147.5" cy="292.15" r="0.55" fill="#fff" opacity="0.27"/>
<circle cx="148.28" cy="291.73" r="0.55" fill="#fff" opacity="0.27"/>
<circle cx="149.05" cy="291.32" r="0.55" fill="#fff" opacity="0.27"/>
<circle cx="149.83" cy="290.91" r="0.55" fill="#fff" opacity="0.27"/>
<circle cx="150.6" cy="290.51" r="0.55" fill="#fff" opacity="0.27"/>
<circle cx="151.38" cy="290.12" r="0.55" fill="#fff" opacity="0.27"/>
<circle cx="152.15" cy="289.73" r="0.55" fill="#fff" opacity="0.27"/>
<circle cx="152.93" cy="289.34" r="0.55" fill="#fff" opacity="0.27"/>
<circle cx="153.7" cy="288.95" r="0.55" fill="#fff" opacity="0.27"/>
<circle cx="154.48" cy="288.56" r="0.55" fill="#fff" opacity="0.27"/>
<circle cx="155.25" cy="288.17" r="0.55" fill="#fff" opacity="0.27"/>
<circle cx="156.03" cy="287.79" r="0.55" fill="#fff" opacity="0.27"/>
<circle cx="156.8" cy="287.41" r="0.55" fill="#fff" opacity="0.27"/>
<circle cx="157.58" cy="287.03" r="0.55" fill="#fff" opacity="0.27"/>
<circle cx="158.35" cy="286.64" r="0.55" fill="#fff" opacity="0.27"/>
<circle cx="159.13" cy="286.25" r="0.55" fill="#fff" opacity="0.27"/>
<circle cx="159.9" cy="285.85" r="0.55" fill="#fff" opacity="0.27"/>
<circle cx="160.68" cy="285.45" r="0.55" fill="#fff" opacity="0.27"/>
<circle cx="161.45" cy="285.05" r="0.55" fill="#fff" opacity="0.27"/>
<circle cx="162.23" cy="284.65" r="0.55" fill="#fff" opacity="0.27"/>
<circle cx="163" cy="284.24" r="0.55" fill="#fff" opacity="0.27"/>
<circle cx="163.78" cy="283.8" r="0.55" fill="#fff" opacity="0.27"/>
<circle cx="164.55" cy="283.33" r="0.55" fill="#fff" opacity="0.27"/>
<circle cx="165.33" cy="282.81" r="0.55" fill="#fff" opacity="0.27"/>
<circle cx="166.1" cy="282.21" r="0.55" fill="#fff" opacity="0.27"/>
<circle cx="166.88" cy="281.53" r="0.55" fill="#fff" opacity="0.27"/>
<circle cx="167.65" cy="280.8" r="0.55" fill="#fff" opacity="0.27"/>
<circle cx="168.43" cy="280.04" r="0.55" fill="#fff" opacity="0.27"/>
<circle cx="169.2" cy="279.3" r="0.55" fill="#fff" opacity="0.27"/>
<circle cx="169.98" cy="278.66" r="0.55" fill="#fff" opacity="0.27"/>
<circle cx="170.75" cy="278.08" r="0.55" fill="#fff" opacity="0.27"/>
<circle cx="171.53" cy="277.46" r="0.55" fill="#fff" opacity="0.27"/>
<circle cx="172.3" cy="276.74" r="0.55" fill="#fff" opacity="0.30"/>
<circle cx="173.08" cy="275.85" r="0.55" fill="#fff" opacity="0.30"/>
<circle cx="173.85" cy="274.77" r="0.55" fill="#fff" opacity="0.30"/>
<circle cx="174.63" cy="273.55" r="0.55" fill="#fff" opacity="0.60"/>
<circle cx="175.4" cy="272.24" r="0.55" fill="#fff" opacity="0.60"/>
<circle cx="176.18" cy="270.86" r="0.55" fill="#fff" opacity="0.60"/>
<circle cx="176.95" cy="269.43" r="0.55" fill="#fff" opacity="0.60"/>
<circle cx="177.73" cy="267.97" r="0.55" fill="#fff" opacity="0.60"/>
<circle cx="178.5" cy="266.47" r="0.55" fill="#fff" opacity="0.60"/>
<circle cx="179.28" cy="264.95" r="0.55" fill="#fff" opacity="0.60"/>
<circle cx="180.05" cy="263.4" r="0.55" fill="#fff" opacity="0.60"/>
<circle cx="180.83" cy="261.83" r="0.55" fill="#fff" opacity="0.60"/>
<circle cx="181.6" cy="260.23" r="0.55" fill="#fff" opacity="0.60"/>
<circle cx="182.38" cy="258.59" r="0.55" fill="#fff" opacity="0.60"/>
<circle cx="183.15" cy="256.91" r="0.55" fill="#fff" opacity="0.60"/>
<circle cx="183.93" cy="255.18" r="0.55" fill="#fff" opacity="0.60"/>
<circle cx="184.7" cy="253.39" r="0.55" fill="#fff" opacity="0.60"/>
<circle cx="185.48" cy="251.54" r="0.55" fill="#fff" opacity="0.60"/>
<circle cx="186.25" cy="249.59" r="0.55" fill="#fff" opacity="0.60"/>
<circle cx="187.03" cy="247.49" r="0.55" fill="#fff" opacity="0.60"/>
<circle cx="187.8" cy="245.25" r="0.55" fill="#fff" opacity="0.60"/>
<circle cx="188.58" cy="242.91" r="0.55" fill="#fff" opacity="0.60"/>
<circle cx="189.35" cy="240.56" r="0.55" fill="#fff" opacity="0.60"/>
<circle cx="190.13" cy="238.3" r="0.55" fill="#fff" opacity="0.60"/>
<circle cx="190.9" cy="236.14" r="0.55" fill="#fff" opacity="0.60"/>
<circle cx="191.68" cy="234.03" r="0.55" fill="#fff" opacity="0.60"/>
<circle cx="192.45" cy="232.26" r="0.55" fill="#fff" opacity="0.60"/>
<circle cx="193.23" cy="230.85" r="0.55" fill="#fff" opacity="0.30"/>
<circle cx="194" cy="229.66" r="0.55" fill="#fff" opacity="0.30"/>
<circle cx="194.78" cy="228.62" r="0.55" fill="#fff" opacity="0.30"/>
<circle cx="195.55" cy="227.66" r="0.55" fill="#fff" opacity="0.30"/>
<circle cx="196.33" cy="226.74" r="0.55" fill="#fff" opacity="0.30"/>
<circle cx="197.1" cy="225.84" r="0.55" fill="#fff" opacity="0.30"/>
<circle cx="197.88" cy="224.96" r="0.55" fill="#fff" opacity="0.30"/>
<circle cx="198.65" cy="224.11" r="0.55" fill="#fff" opacity="0.30"/>
<circle cx="199.43" cy="223.3" r="0.55" fill="#fff" opacity="0.30"/>
<circle cx="200.2" cy="222.51" r="0.55" fill="#fff" opacity="0.27"/>
<circle cx="200.98" cy="221.76" r="0.55" fill="#fff" opacity="0.27"/>
<circle cx="201.75" cy="221.06" r="0.55" fill="#fff" opacity="0.27"/>
<circle cx="202.53" cy="220.4" r="0.55" fill="#fff" opacity="0.27"/>
<circle cx="203.3" cy="219.77" r="0.55" fill="#fff" opacity="0.27"/>
<circle cx="204.08" cy="219.18" r="0.55" fill="#fff" opacity="0.27"/>
<circle cx="204.85" cy="218.63" r="0.55" fill="#fff" opacity="0.27"/>
<circle cx="205.63" cy="218.11" r="0.55" fill="#fff" opacity="0.27"/>
<circle cx="206.4" cy="217.61" r="0.55" fill="#fff" opacity="0.27"/>
<circle cx="207.18" cy="217.13" r="0.55" fill="#fff" opacity="0.27"/>
<circle cx="207.95" cy="216.68" r="0.55" fill="#fff" opacity="0.27"/>
<circle cx="208.73" cy="216.23" r="0.55" fill="#fff" opacity="0.27"/>
<circle cx="209.5" cy="215.81" r="0.55" fill="#fff" opacity="0.27"/>
<circle cx="210.28" cy="215.42" r="0.55" fill="#fff" opacity="0.27"/>
<circle cx="211.05" cy="215.04" r="0.55" fill="#fff" opacity="0.27"/>
<circle cx="211.83" cy="214.69" r="0.55" fill="#fff" opacity="0.27"/>
<circle cx="212.6" cy="214.35" r="0.55" fill="#fff" opacity="0.27"/>
<circle cx="213.38" cy="214.03" r="0.55" fill="#fff" opacity="0.27"/>
<circle cx="214.15" cy="213.73" r="0.55" fill="#fff" opacity="0.27"/>
<circle cx="214.93" cy="213.44" r="0.55" fill="#fff" opacity="0.27"/>
<circle cx="215.7" cy="213.16" r="0.55" fill="#fff" opacity="0.27"/>
<circle cx="216.48" cy="212.89" r="0.55" fill="#fff" opacity="0.27"/>
<circle cx="217.25" cy="212.62" r="0.55" fill="#fff" opacity="0.27"/>
<circle cx="218.03" cy="212.36" r="0.55" fill="#fff" opacity="0.27"/>
<circle cx="218.8" cy="212.1" r="0.55" fill="#fff" opacity="0.27"/>
<circle cx="219.58" cy="211.84" r="0.55" fill="#fff" opacity="0.27"/>
<circle cx="220.35" cy="211.58" r="0.55" fill="#fff" opacity="0.27"/>
<circle cx="221.13" cy="211.33" r="0.55" fill="#fff" opacity="0.27"/>
<circle cx="221.9" cy="211.07" r="0.55" fill="#fff" opacity="0.27"/>
<circle cx="222.68" cy="210.81" r="0.55" fill="#fff" opacity="0.27"/>
<line x1="37" y1="213.3" x2="56.2" y2="213.3" stroke="#000" stroke-width="2.3" />
<circle cx="46.8" cy="213.5" r="1.4" fill="#fff" stroke="#000" stroke-width="0.8"/>
<line x1="37" y1="224.5" x2="56.2" y2="224.5" stroke="#ff0000" stroke-width="2.3" />
<circle cx="46.8" cy="224.5" r="1.4" fill="#fff" stroke="#ff0000" stroke-width="0.8"/>
<text x="58.3" y="216.5" font-family="Liberation Sans, sans-serif" font-size="8.4" font-weight="bold" fill="#000" text-anchor="start" textLength="24.7" lengthAdjust="spacingAndGlyphs">Control</text>
<text x="58.3" y="227.5" font-family="Liberation Sans, sans-serif" font-size="8.4" font-weight="bold" fill="#000" text-anchor="start" textLength="21.4" lengthAdjust="spacingAndGlyphs">Target</text>
<text transform="translate(6.8 285.2) rotate(-90)" font-family="Liberation Sans, sans-serif" font-size="7.8" font-weight="bold" text-anchor="middle" fill="#000" textLength="58.5" lengthAdjust="spacingAndGlyphs">Dark current (A)</text>
<text x="107.9" y="386.6" font-family="Liberation Sans, sans-serif" font-size="8.6" font-weight="bold" fill="#000" text-anchor="start" textLength="37.1" lengthAdjust="spacingAndGlyphs">Voltage (V)</text>
<text x="2" y="200.6" font-family="Liberation Sans, sans-serif" font-size="12.3" font-weight="bold" fill="#000" text-anchor="start" textLength="6.3" lengthAdjust="spacingAndGlyphs">d</text>
<rect x="255.6" y="202.6" width="194.3" height="163.7" fill="none" stroke="#000" stroke-width="1.15"/>
<line x1="255.6" y1="353.5" x2="258.2" y2="353.5" stroke="#000" stroke-width="1" />
<line x1="255.6" y1="328.1" x2="258.2" y2="328.1" stroke="#000" stroke-width="1" />
<line x1="255.6" y1="302.7" x2="258.2" y2="302.7" stroke="#000" stroke-width="1" />
<line x1="255.6" y1="277.3" x2="258.2" y2="277.3" stroke="#000" stroke-width="1" />
<line x1="255.6" y1="251.9" x2="258.2" y2="251.9" stroke="#000" stroke-width="1" />
<line x1="255.6" y1="226.5" x2="258.2" y2="226.5" stroke="#000" stroke-width="1" />
<line x1="255.6" y1="201.1" x2="258.2" y2="201.1" stroke="#000" stroke-width="1" />
<line x1="255.6" y1="340.8" x2="257.2" y2="340.8" stroke="#000" stroke-width="1" />
<line x1="255.6" y1="315.4" x2="257.2" y2="315.4" stroke="#000" stroke-width="1" />
<line x1="255.6" y1="290" x2="257.2" y2="290" stroke="#000" stroke-width="1" />
<line x1="255.6" y1="264.6" x2="257.2" y2="264.6" stroke="#000" stroke-width="1" />
<line x1="255.6" y1="239.2" x2="257.2" y2="239.2" stroke="#000" stroke-width="1" />
<line x1="255.6" y1="213.8" x2="257.2" y2="213.8" stroke="#000" stroke-width="1" />
<line x1="255.6" y1="366.2" x2="257.2" y2="366.2" stroke="#000" stroke-width="1" />
<line x1="264.4" y1="366.3" x2="264.4" y2="363.7" stroke="#000" stroke-width="1" />
<line x1="301.2" y1="366.3" x2="301.2" y2="363.7" stroke="#000" stroke-width="1" />
<line x1="338" y1="366.3" x2="338" y2="363.7" stroke="#000" stroke-width="1" />
<line x1="374.8" y1="366.3" x2="374.8" y2="363.7" stroke="#000" stroke-width="1" />
<line x1="411.6" y1="366.3" x2="411.6" y2="363.7" stroke="#000" stroke-width="1" />
<line x1="448.4" y1="366.3" x2="448.4" y2="363.7" stroke="#000" stroke-width="1" />
<line x1="282.8" y1="366.3" x2="282.8" y2="364.7" stroke="#000" stroke-width="1" />
<line x1="319.6" y1="366.3" x2="319.6" y2="364.7" stroke="#000" stroke-width="1" />
<line x1="356.4" y1="366.3" x2="356.4" y2="364.7" stroke="#000" stroke-width="1" />
<line x1="393.2" y1="366.3" x2="393.2" y2="364.7" stroke="#000" stroke-width="1" />
<line x1="430" y1="366.3" x2="430" y2="364.7" stroke="#000" stroke-width="1" />
<text x="252" y="355.9" font-family="Liberation Sans, sans-serif" font-size="6.5" font-weight="bold" fill="#000" text-anchor="end" textLength="8.2" lengthAdjust="spacingAndGlyphs">0.0</text>
<text x="252" y="330.5" font-family="Liberation Sans, sans-serif" font-size="6.5" font-weight="bold" fill="#000" text-anchor="end" textLength="8.2" lengthAdjust="spacingAndGlyphs">0.2</text>
<text x="252" y="305.1" font-family="Liberation Sans, sans-serif" font-size="6.5" font-weight="bold" fill="#000" text-anchor="end" textLength="8.2" lengthAdjust="spacingAndGlyphs">0.4</text>
<text x="252" y="279.7" font-family="Liberation Sans, sans-serif" font-size="6.5" font-weight="bold" fill="#000" text-anchor="end" textLength="8.2" lengthAdjust="spacingAndGlyphs">0.6</text>
<text x="252" y="254.3" font-family="Liberation Sans, sans-serif" font-size="6.5" font-weight="bold" fill="#000" text-anchor="end" textLength="8.2" lengthAdjust="spacingAndGlyphs">0.8</text>
<text x="252" y="228.9" font-family="Liberation Sans, sans-serif" font-size="6.5" font-weight="bold" fill="#000" text-anchor="end" textLength="8.2" lengthAdjust="spacingAndGlyphs">1.0</text>
<text x="252" y="203.5" font-family="Liberation Sans, sans-serif" font-size="6.5" font-weight="bold" fill="#000" text-anchor="end" textLength="8.2" lengthAdjust="spacingAndGlyphs">1.2</text>
<text x="264.4" y="375.6" font-family="Liberation Sans, sans-serif" font-size="6.5" font-weight="bold" fill="#000" text-anchor="middle">0</text>
<text x="301.2" y="375.6" font-family="Liberation Sans, sans-serif" font-size="6.5" font-weight="bold" fill="#000" text-anchor="middle">2</text>
<text x="338" y="375.6" font-family="Liberation Sans, sans-serif" font-size="6.5" font-weight="bold" fill="#000" text-anchor="middle">4</text>
<text x="374.8" y="375.6" font-family="Liberation Sans, sans-serif" font-size="6.5" font-weight="bold" fill="#000" text-anchor="middle">6</text>
<text x="411.6" y="375.6" font-family="Liberation Sans, sans-serif" font-size="6.5" font-weight="bold" fill="#000" text-anchor="middle">8</text>
<text x="448.4" y="375.6" font-family="Liberation Sans, sans-serif" font-size="6.5" font-weight="bold" fill="#000" text-anchor="middle">10</text>
<circle cx="266.24" cy="226.3" r="1.35" fill="#fff" stroke="#ff0000" stroke-width="0.95"/>
<circle cx="267.49" cy="226.3" r="1.35" fill="#fff" stroke="#ff0000" stroke-width="0.95"/>
<circle cx="268.74" cy="233.07" r="1.35" fill="#fff" stroke="#ff0000" stroke-width="0.95"/>
<circle cx="269.99" cy="240.44" r="1.35" fill="#fff" stroke="#ff0000" stroke-width="0.95"/>
<circle cx="271.24" cy="247.01" r="1.35" fill="#fff" stroke="#ff0000" stroke-width="0.95"/>
<circle cx="272.5" cy="253.92" r="1.35" fill="#fff" stroke="#ff0000" stroke-width="0.95"/>
<circle cx="273.75" cy="260.77" r="1.35" fill="#fff" stroke="#ff0000" stroke-width="0.95"/>
<circle cx="275" cy="266" r="1.35" fill="#fff" stroke="#ff0000" stroke-width="0.95"/>
<circle cx="276.25" cy="271.65" r="1.35" fill="#fff" stroke="#ff0000" stroke-width="0.95"/>
<circle cx="277.5" cy="276.1" r="1.35" fill="#fff" stroke="#ff0000" stroke-width="0.95"/>
<circle cx="278.75" cy="280.79" r="1.35" fill="#fff" stroke="#ff0000" stroke-width="0.95"/>
<circle cx="280" cy="284.97" r="1.35" fill="#fff" stroke="#ff0000" stroke-width="0.95"/>
<circle cx="281.25" cy="287.87" r="1.35" fill="#fff" stroke="#ff0000" stroke-width="0.95"/>
<circle cx="282.51" cy="293.13" r="1.35" fill="#fff" stroke="#ff0000" stroke-width="0.95"/>
<circle cx="283.76" cy="296.58" r="1.35" fill="#fff" stroke="#ff0000" stroke-width="0.95"/>
<circle cx="285.01" cy="300.1" r="1.35" fill="#fff" stroke="#ff0000" stroke-width="0.95"/>
<circle cx="286.26" cy="300.87" r="1.35" fill="#fff" stroke="#ff0000" stroke-width="0.95"/>
<circle cx="287.51" cy="303.43" r="1.35" fill="#fff" stroke="#ff0000" stroke-width="0.95"/>
<circle cx="288.76" cy="307.23" r="1.35" fill="#fff" stroke="#ff0000" stroke-width="0.95"/>
<circle cx="290.01" cy="310.44" r="1.35" fill="#fff" stroke="#ff0000" stroke-width="0.95"/>
<circle cx="291.26" cy="314.38" r="1.35" fill="#fff" stroke="#ff0000" stroke-width="0.95"/>
<circle cx="292.52" cy="315.98" r="1.35" fill="#fff" stroke="#ff0000" stroke-width="0.95"/>
<circle cx="293.77" cy="319.54" r="1.35" fill="#fff" stroke="#ff0000" stroke-width="0.95"/>
<circle cx="295.02" cy="318.58" r="1.35" fill="#fff" stroke="#ff0000" stroke-width="0.95"/>
<circle cx="296.27" cy="323.11" r="1.35" fill="#fff" stroke="#ff0000" stroke-width="0.95"/>
<circle cx="297.52" cy="325.25" r="1.35" fill="#fff" stroke="#ff0000" stroke-width="0.95"/>
<circle cx="298.77" cy="323.5" r="1.35" fill="#fff" stroke="#ff0000" stroke-width="0.95"/>
<circle cx="300.02" cy="332.55" r="1.35" fill="#fff" stroke="#ff0000" stroke-width="0.95"/>
<circle cx="301.27" cy="330.18" r="1.35" fill="#fff" stroke="#ff0000" stroke-width="0.95"/>
<circle cx="302.52" cy="333.49" r="1.35" fill="#fff" stroke="#ff0000" stroke-width="0.95"/>
<circle cx="303.78" cy="328.84" r="1.35" fill="#fff" stroke="#ff0000" stroke-width="0.95"/>
<circle cx="305.03" cy="329.56" r="1.35" fill="#fff" stroke="#ff0000" stroke-width="0.95"/>
<circle cx="306.28" cy="331.85" r="1.35" fill="#fff" stroke="#ff0000" stroke-width="0.95"/>
<circle cx="307.53" cy="333.56" r="1.35" fill="#fff" stroke="#ff0000" stroke-width="0.95"/>
<circle cx="308.78" cy="336.82" r="1.35" fill="#fff" stroke="#ff0000" stroke-width="0.95"/>
<circle cx="310.03" cy="336.42" r="1.35" fill="#fff" stroke="#ff0000" stroke-width="0.95"/>
<circle cx="311.28" cy="334.97" r="1.35" fill="#fff" stroke="#ff0000" stroke-width="0.95"/>
<circle cx="312.53" cy="334.07" r="1.35" fill="#fff" stroke="#ff0000" stroke-width="0.95"/>
<circle cx="313.79" cy="336.14" r="1.35" fill="#fff" stroke="#ff0000" stroke-width="0.95"/>
<circle cx="315.04" cy="342.35" r="1.35" fill="#fff" stroke="#ff0000" stroke-width="0.95"/>
<circle cx="316.29" cy="336.45" r="1.35" fill="#fff" stroke="#ff0000" stroke-width="0.95"/>
<circle cx="317.54" cy="340.37" r="1.35" fill="#fff" stroke="#ff0000" stroke-width="0.95"/>
<circle cx="318.79" cy="341.47" r="1.35" fill="#fff" stroke="#ff0000" stroke-width="0.95"/>
<circle cx="320.04" cy="335.82" r="1.35" fill="#fff" stroke="#ff0000" stroke-width="0.95"/>
<circle cx="321.29" cy="341.19" r="1.35" fill="#fff" stroke="#ff0000" stroke-width="0.95"/>
<circle cx="322.54" cy="345.64" r="1.35" fill="#fff" stroke="#ff0000" stroke-width="0.95"/>
<circle cx="323.8" cy="335.4" r="1.35" fill="#fff" stroke="#ff0000" stroke-width="0.95"/>
<circle cx="325.05" cy="341.19" r="1.35" fill="#fff" stroke="#ff0000" stroke-width="0.95"/>
<circle cx="326.3" cy="342.22" r="1.35" fill="#fff" stroke="#ff0000" stroke-width="0.95"/>
<circle cx="327.55" cy="340.26" r="1.35" fill="#fff" stroke="#ff0000" stroke-width="0.95"/>
<circle cx="328.8" cy="344.77" r="1.35" fill="#fff" stroke="#ff0000" stroke-width="0.95"/>
<circle cx="330.05" cy="343.26" r="1.35" fill="#fff" stroke="#ff0000" stroke-width="0.95"/>
<circle cx="331.3" cy="339.03" r="1.35" fill="#fff" stroke="#ff0000" stroke-width="0.95"/>
<circle cx="332.55" cy="346.61" r="1.35" fill="#fff" stroke="#ff0000" stroke-width="0.95"/>
<circle cx="333.8" cy="346.33" r="1.35" fill="#fff" stroke="#ff0000" stroke-width="0.95"/>
<circle cx="335.06" cy="347.43" r="1.35" fill="#fff" stroke="#ff0000" stroke-width="0.95"/>
<circle cx="336.31" cy="349.13" r="1.35" fill="#fff" stroke="#ff0000" stroke-width="0.95"/>
<circle cx="337.56" cy="345.91" r="1.35" fill="#fff" stroke="#ff0000" stroke-width="0.95"/>
<circle cx="338.81" cy="345.32" r="1.35" fill="#fff" stroke="#ff0000" stroke-width="0.95"/>
<circle cx="340.06" cy="341.22" r="1.35" fill="#fff" stroke="#ff0000" stroke-width="0.95"/>
<circle cx="341.31" cy="347.08" r="1.35" fill="#fff" stroke="#ff0000" stroke-width="0.95"/>
<circle cx="342.56" cy="343.64" r="1.35" fill="#fff" stroke="#ff0000" stroke-width="0.95"/>
<circle cx="343.81" cy="344.25" r="1.35" fill="#fff" stroke="#ff0000" stroke-width="0.95"/>
<circle cx="345.07" cy="342.13" r="1.35" fill="#fff" stroke="#ff0000" stroke-width="0.95"/>
<circle cx="346.32" cy="343.12" r="1.35" fill="#fff" stroke="#ff0000" stroke-width="0.95"/>
<circle cx="347.57" cy="344.45" r="1.35" fill="#fff" stroke="#ff0000" stroke-width="0.95"/>
<circle cx="348.82" cy="349.4" r="1.35" fill="#fff" stroke="#ff0000" stroke-width="0.95"/>
<circle cx="350.07" cy="340.8" r="1.35" fill="#fff" stroke="#ff0000" stroke-width="0.95"/>
<circle cx="351.32" cy="342.45" r="1.35" fill="#fff" stroke="#ff0000" stroke-width="0.95"/>
<circle cx="352.57" cy="346.85" r="1.35" fill="#fff" stroke="#ff0000" stroke-width="0.95"/>
<circle cx="353.82" cy="349.86" r="1.35" fill="#fff" stroke="#ff0000" stroke-width="0.95"/>
<circle cx="355.08" cy="347.78" r="1.35" fill="#fff" stroke="#ff0000" stroke-width="0.95"/>
<circle cx="356.33" cy="341.9" r="1.35" fill="#fff" stroke="#ff0000" stroke-width="0.95"/>
<circle cx="357.58" cy="340.48" r="1.35" fill="#fff" stroke="#ff0000" stroke-width="0.95"/>
<circle cx="358.83" cy="347.44" r="1.35" fill="#fff" stroke="#ff0000" stroke-width="0.95"/>
<circle cx="360.08" cy="344.87" r="1.35" fill="#fff" stroke="#ff0000" stroke-width="0.95"/>
<circle cx="361.33" cy="344" r="1.35" fill="#fff" stroke="#ff0000" stroke-width="0.95"/>
<circle cx="362.58" cy="349.08" r="1.35" fill="#fff" stroke="#ff0000" stroke-width="0.95"/>
<circle cx="363.83" cy="349.42" r="1.35" fill="#fff" stroke="#ff0000" stroke-width="0.95"/>
<circle cx="365.08" cy="347.2" r="1.35" fill="#fff" stroke="#ff0000" stroke-width="0.95"/>
<circle cx="366.34" cy="347.45" r="1.35" fill="#fff" stroke="#ff0000" stroke-width="0.95"/>
<circle cx="367.59" cy="347.94" r="1.35" fill="#fff" stroke="#ff0000" stroke-width="0.95"/>
<circle cx="368.84" cy="350.75" r="1.35" fill="#fff" stroke="#ff0000" stroke-width="0.95"/>
<circle cx="370.09" cy="348.44" r="1.35" fill="#fff" stroke="#ff0000" stroke-width="0.95"/>
<circle cx="371.34" cy="348.23" r="1.35" fill="#fff" stroke="#ff0000" stroke-width="0.95"/>
<circle cx="372.59" cy="348.33" r="1.35" fill="#fff" stroke="#ff0000" stroke-width="0.95"/>
<circle cx="373.84" cy="343.28" r="1.35" fill="#fff" stroke="#ff0000" stroke-width="0.95"/>
<circle cx="375.09" cy="350.14" r="1.35" fill="#fff" stroke="#ff0000" stroke-width="0.95"/>
<circle cx="376.35" cy="349.38" r="1.35" fill="#fff" stroke="#ff0000" stroke-width="0.95"/>
<circle cx="377.6" cy="348.38" r="1.35" fill="#fff" stroke="#ff0000" stroke-width="0.95"/>
<circle cx="378.85" cy="342.39" r="1.35" fill="#fff" stroke="#ff0000" stroke-width="0.95"/>
<circle cx="380.1" cy="345.62" r="1.35" fill="#fff" stroke="#ff0000" stroke-width="0.95"/>
<circle cx="381.35" cy="349.18" r="1.35" fill="#fff" stroke="#ff0000" stroke-width="0.95"/>
<circle cx="382.6" cy="342.83" r="1.35" fill="#fff" stroke="#ff0000" stroke-width="0.95"/>
<circle cx="383.85" cy="346.75" r="1.35" fill="#fff" stroke="#ff0000" stroke-width="0.95"/>
<circle cx="385.1" cy="349.65" r="1.35" fill="#fff" stroke="#ff0000" stroke-width="0.95"/>
<circle cx="386.36" cy="344.07" r="1.35" fill="#fff" stroke="#ff0000" stroke-width="0.95"/>
<circle cx="387.61" cy="351.09" r="1.35" fill="#fff" stroke="#ff0000" stroke-width="0.95"/>
<circle cx="388.86" cy="348.57" r="1.35" fill="#fff" stroke="#ff0000" stroke-width="0.95"/>
<circle cx="390.11" cy="346.89" r="1.35" fill="#fff" stroke="#ff0000" stroke-width="0.95"/>
<circle cx="391.36" cy="348.04" r="1.35" fill="#fff" stroke="#ff0000" stroke-width="0.95"/>
<circle cx="392.61" cy="348.83" r="1.35" fill="#fff" stroke="#ff0000" stroke-width="0.95"/>
<circle cx="393.86" cy="347.57" r="1.35" fill="#fff" stroke="#ff0000" stroke-width="0.95"/>
<circle cx="395.11" cy="350.04" r="1.35" fill="#fff" stroke="#ff0000" stroke-width="0.95"/>
<circle cx="396.36" cy="345.71" r="1.35" fill="#fff" stroke="#ff0000" stroke-width="0.95"/>
<circle cx="397.62" cy="346.31" r="1.35" fill="#fff" stroke="#ff0000" stroke-width="0.95"/>
<circle cx="398.87" cy="349.81" r="1.35" fill="#fff" stroke="#ff0000" stroke-width="0.95"/>
<circle cx="400.12" cy="347.38" r="1.35" fill="#fff" stroke="#ff0000" stroke-width="0.95"/>
<circle cx="401.37" cy="345.21" r="1.35" fill="#fff" stroke="#ff0000" stroke-width="0.95"/>
<circle cx="402.62" cy="349.6" r="1.35" fill="#fff" stroke="#ff0000" stroke-width="0.95"/>
<circle cx="403.87" cy="350.85" r="1.35" fill="#fff" stroke="#ff0000" stroke-width="0.95"/>
<circle cx="405.12" cy="346.27" r="1.35" fill="#fff" stroke="#ff0000" stroke-width="0.95"/>
<circle cx="406.37" cy="344.03" r="1.35" fill="#fff" stroke="#ff0000" stroke-width="0.95"/>
<circle cx="407.63" cy="347.02" r="1.35" fill="#fff" stroke="#ff0000" stroke-width="0.95"/>
<circle cx="408.88" cy="346.99" r="1.35" fill="#fff" stroke="#ff0000" stroke-width="0.95"/>
<circle cx="410.13" cy="346.64" r="1.35" fill="#fff" stroke="#ff0000" stroke-width="0.95"/>
<circle cx="411.38" cy="350.73" r="1.35" fill="#fff" stroke="#ff0000" stroke-width="0.95"/>
<circle cx="412.63" cy="344.89" r="1.35" fill="#fff" stroke="#ff0000" stroke-width="0.95"/>
<circle cx="413.88" cy="350.39" r="1.35" fill="#fff" stroke="#ff0000" stroke-width="0.95"/>
<circle cx="415.13" cy="344.32" r="1.35" fill="#fff" stroke="#ff0000" stroke-width="0.95"/>
<circle cx="416.38" cy="345.48" r="1.35" fill="#fff" stroke="#ff0000" stroke-width="0.95"/>
<circle cx="417.64" cy="348.88" r="1.35" fill="#fff" stroke="#ff0000" stroke-width="0.95"/>
<circle cx="418.89" cy="350.08" r="1.35" fill="#fff" stroke="#ff0000" stroke-width="0.95"/>
<circle cx="420.14" cy="349.43" r="1.35" fill="#fff" stroke="#ff0000" stroke-width="0.95"/>
<circle cx="421.39" cy="348.2" r="1.35" fill="#fff" stroke="#ff0000" stroke-width="0.95"/>
<circle cx="422.64" cy="347.72" r="1.35" fill="#fff" stroke="#ff0000" stroke-width="0.95"/>
<circle cx="423.89" cy="347.74" r="1.35" fill="#fff" stroke="#ff0000" stroke-width="0.95"/>
<circle cx="425.14" cy="348.76" r="1.35" fill="#fff" stroke="#ff0000" stroke-width="0.95"/>
<circle cx="426.39" cy="346.96" r="1.35" fill="#fff" stroke="#ff0000" stroke-width="0.95"/>
<circle cx="427.64" cy="348.05" r="1.35" fill="#fff" stroke="#ff0000" stroke-width="0.95"/>
<circle cx="428.9" cy="348.76" r="1.35" fill="#fff" stroke="#ff0000" stroke-width="0.95"/>
<circle cx="430.15" cy="347.39" r="1.35" fill="#fff" stroke="#ff0000" stroke-width="0.95"/>
<circle cx="431.4" cy="349.22" r="1.35" fill="#fff" stroke="#ff0000" stroke-width="0.95"/>
<circle cx="432.65" cy="348.74" r="1.35" fill="#fff" stroke="#ff0000" stroke-width="0.95"/>
<circle cx="433.9" cy="352.21" r="1.35" fill="#fff" stroke="#ff0000" stroke-width="0.95"/>
<circle cx="435.15" cy="348.17" r="1.35" fill="#fff" stroke="#ff0000" stroke-width="0.95"/>
<circle cx="436.4" cy="346.36" r="1.35" fill="#fff" stroke="#ff0000" stroke-width="0.95"/>
<circle cx="437.65" cy="346.49" r="1.35" fill="#fff" stroke="#ff0000" stroke-width="0.95"/>
<circle cx="438.91" cy="347.36" r="1.35" fill="#fff" stroke="#ff0000" stroke-width="0.95"/>
<circle cx="440.16" cy="349.61" r="1.35" fill="#fff" stroke="#ff0000" stroke-width="0.95"/>
<circle cx="441.41" cy="346.58" r="1.35" fill="#fff" stroke="#ff0000" stroke-width="0.95"/>
<circle cx="442.66" cy="348.32" r="1.35" fill="#fff" stroke="#ff0000" stroke-width="0.95"/>
<circle cx="443.91" cy="351.8" r="1.35" fill="#fff" stroke="#ff0000" stroke-width="0.95"/>
<circle cx="445.16" cy="341.24" r="1.35" fill="#fff" stroke="#ff0000" stroke-width="0.95"/>
<circle cx="446.41" cy="344.7" r="1.35" fill="#fff" stroke="#ff0000" stroke-width="0.95"/>
<circle cx="447.66" cy="347.98" r="1.35" fill="#fff" stroke="#ff0000" stroke-width="0.95"/>
<circle cx="272.64" cy="233.11" r="1.25" fill="#fff" stroke="#000" stroke-width="1.1"/>
<circle cx="273.86" cy="239" r="1.25" fill="#fff" stroke="#000" stroke-width="1.1"/>
<circle cx="275.07" cy="245.12" r="1.25" fill="#fff" stroke="#000" stroke-width="1.1"/>
<circle cx="276.29" cy="251.95" r="1.25" fill="#fff" stroke="#000" stroke-width="1.1"/>
<circle cx="277.5" cy="256.49" r="1.25" fill="#fff" stroke="#000" stroke-width="1.1"/>
<circle cx="278.72" cy="261.48" r="1.25" fill="#fff" stroke="#000" stroke-width="1.1"/>
<circle cx="279.93" cy="266.65" r="1.25" fill="#fff" stroke="#000" stroke-width="1.1"/>
<circle cx="281.14" cy="271.34" r="1.25" fill="#fff" stroke="#000" stroke-width="1.1"/>
<circle cx="282.36" cy="274.99" r="1.25" fill="#fff" stroke="#000" stroke-width="1.1"/>
<circle cx="283.57" cy="279.64" r="1.25" fill="#fff" stroke="#000" stroke-width="1.1"/>
<circle cx="284.79" cy="283.29" r="1.25" fill="#fff" stroke="#000" stroke-width="1.1"/>
<circle cx="286" cy="287.83" r="1.25" fill="#fff" stroke="#000" stroke-width="1.1"/>
<circle cx="287.22" cy="291.74" r="1.25" fill="#fff" stroke="#000" stroke-width="1.1"/>
<circle cx="288.43" cy="294.7" r="1.25" fill="#fff" stroke="#000" stroke-width="1.1"/>
<circle cx="289.64" cy="297.87" r="1.25" fill="#fff" stroke="#000" stroke-width="1.1"/>
<circle cx="290.86" cy="300.83" r="1.25" fill="#fff" stroke="#000" stroke-width="1.1"/>
<circle cx="292.07" cy="304.85" r="1.25" fill="#fff" stroke="#000" stroke-width="1.1"/>
<circle cx="293.29" cy="307.33" r="1.25" fill="#fff" stroke="#000" stroke-width="1.1"/>
<circle cx="294.5" cy="309.39" r="1.25" fill="#fff" stroke="#000" stroke-width="1.1"/>
<circle cx="295.72" cy="311.98" r="1.25" fill="#fff" stroke="#000" stroke-width="1.1"/>
<circle cx="296.93" cy="311.87" r="1.25" fill="#fff" stroke="#000" stroke-width="1.1"/>
<circle cx="298.15" cy="315.38" r="1.25" fill="#fff" stroke="#000" stroke-width="1.1"/>
<circle cx="299.36" cy="317.47" r="1.25" fill="#fff" stroke="#000" stroke-width="1.1"/>
<circle cx="300.57" cy="319.73" r="1.25" fill="#fff" stroke="#000" stroke-width="1.1"/>
<circle cx="302.32" cy="319.56" r="1.25" fill="#fff" stroke="#000" stroke-width="1.1"/>
<circle cx="304.07" cy="322.08" r="1.25" fill="#fff" stroke="#000" stroke-width="1.1"/>
<circle cx="305.82" cy="321.54" r="1.25" fill="#fff" stroke="#000" stroke-width="1.1"/>
<circle cx="307.57" cy="325.24" r="1.25" fill="#fff" stroke="#000" stroke-width="1.1"/>
<circle cx="309.31" cy="324.32" r="1.25" fill="#fff" stroke="#000" stroke-width="1.1"/>
<circle cx="311.06" cy="326.73" r="1.25" fill="#fff" stroke="#000" stroke-width="1.1"/>
<circle cx="312.81" cy="331.47" r="1.25" fill="#fff" stroke="#000" stroke-width="1.1"/>
<circle cx="314.56" cy="327.96" r="1.25" fill="#fff" stroke="#000" stroke-width="1.1"/>
<circle cx="316.31" cy="333.18" r="1.25" fill="#fff" stroke="#000" stroke-width="1.1"/>
<circle cx="318.05" cy="333.45" r="1.25" fill="#fff" stroke="#000" stroke-width="1.1"/>
<circle cx="319.8" cy="333.4" r="1.25" fill="#fff" stroke="#000" stroke-width="1.1"/>
<circle cx="321.55" cy="335.26" r="1.25" fill="#fff" stroke="#000" stroke-width="1.1"/>
<circle cx="323.3" cy="336.07" r="1.25" fill="#fff" stroke="#000" stroke-width="1.1"/>
<circle cx="325.05" cy="337.44" r="1.25" fill="#fff" stroke="#000" stroke-width="1.1"/>
<circle cx="326.79" cy="336.25" r="1.25" fill="#fff" stroke="#000" stroke-width="1.1"/>
<circle cx="328.54" cy="336.29" r="1.25" fill="#fff" stroke="#000" stroke-width="1.1"/>
<circle cx="330.29" cy="336.75" r="1.25" fill="#fff" stroke="#000" stroke-width="1.1"/>
<circle cx="332.04" cy="336.5" r="1.25" fill="#fff" stroke="#000" stroke-width="1.1"/>
<circle cx="333.79" cy="338.13" r="1.25" fill="#fff" stroke="#000" stroke-width="1.1"/>
<circle cx="335.53" cy="337.27" r="1.25" fill="#fff" stroke="#000" stroke-width="1.1"/>
<circle cx="337.28" cy="340.26" r="1.25" fill="#fff" stroke="#000" stroke-width="1.1"/>
<circle cx="339.03" cy="335.95" r="1.25" fill="#fff" stroke="#000" stroke-width="1.1"/>
<circle cx="340.78" cy="337.27" r="1.25" fill="#fff" stroke="#000" stroke-width="1.1"/>
<circle cx="342.53" cy="337.59" r="1.25" fill="#fff" stroke="#000" stroke-width="1.1"/>
<circle cx="344.27" cy="335.83" r="1.25" fill="#fff" stroke="#000" stroke-width="1.1"/>
<circle cx="346.02" cy="342.42" r="1.25" fill="#fff" stroke="#000" stroke-width="1.1"/>
<circle cx="347.77" cy="335.35" r="1.25" fill="#fff" stroke="#000" stroke-width="1.1"/>
<circle cx="349.52" cy="338.93" r="1.25" fill="#fff" stroke="#000" stroke-width="1.1"/>
<circle cx="351.27" cy="338.65" r="1.25" fill="#fff" stroke="#000" stroke-width="1.1"/>
<circle cx="353.01" cy="342.52" r="1.25" fill="#fff" stroke="#000" stroke-width="1.1"/>
<circle cx="354.76" cy="336.47" r="1.25" fill="#fff" stroke="#000" stroke-width="1.1"/>
<circle cx="356.51" cy="341.8" r="1.25" fill="#fff" stroke="#000" stroke-width="1.1"/>
<circle cx="358.26" cy="338.86" r="1.25" fill="#fff" stroke="#000" stroke-width="1.1"/>
<circle cx="360.01" cy="339.95" r="1.25" fill="#fff" stroke="#000" stroke-width="1.1"/>
<circle cx="361.75" cy="339.17" r="1.25" fill="#fff" stroke="#000" stroke-width="1.1"/>
<circle cx="363.5" cy="341.49" r="1.25" fill="#fff" stroke="#000" stroke-width="1.1"/>
<circle cx="365.25" cy="338.55" r="1.25" fill="#fff" stroke="#000" stroke-width="1.1"/>
<circle cx="367" cy="340.43" r="1.25" fill="#fff" stroke="#000" stroke-width="1.1"/>
<circle cx="368.75" cy="341.24" r="1.25" fill="#fff" stroke="#000" stroke-width="1.1"/>
<circle cx="370.49" cy="343.83" r="1.25" fill="#fff" stroke="#000" stroke-width="1.1"/>
<circle cx="372.24" cy="336.67" r="1.25" fill="#fff" stroke="#000" stroke-width="1.1"/>
<circle cx="373.99" cy="343.41" r="1.25" fill="#fff" stroke="#000" stroke-width="1.1"/>
<circle cx="375.74" cy="342.48" r="1.25" fill="#fff" stroke="#000" stroke-width="1.1"/>
<circle cx="377.49" cy="340.09" r="1.25" fill="#fff" stroke="#000" stroke-width="1.1"/>
<circle cx="379.23" cy="341.47" r="1.25" fill="#fff" stroke="#000" stroke-width="1.1"/>
<circle cx="380.98" cy="340.2" r="1.25" fill="#fff" stroke="#000" stroke-width="1.1"/>
<circle cx="382.73" cy="343.82" r="1.25" fill="#fff" stroke="#000" stroke-width="1.1"/>
<circle cx="384.48" cy="341.41" r="1.25" fill="#fff" stroke="#000" stroke-width="1.1"/>
<circle cx="386.23" cy="340.72" r="1.25" fill="#fff" stroke="#000" stroke-width="1.1"/>
<circle cx="387.97" cy="340.72" r="1.25" fill="#fff" stroke="#000" stroke-width="1.1"/>
<circle cx="389.72" cy="340.8" r="1.25" fill="#fff" stroke="#000" stroke-width="1.1"/>
<circle cx="391.47" cy="340.86" r="1.25" fill="#fff" stroke="#000" stroke-width="1.1"/>
<circle cx="393.22" cy="339.69" r="1.25" fill="#fff" stroke="#000" stroke-width="1.1"/>
<circle cx="394.97" cy="344.7" r="1.25" fill="#fff" stroke="#000" stroke-width="1.1"/>
<circle cx="396.71" cy="337.97" r="1.25" fill="#fff" stroke="#000" stroke-width="1.1"/>
<circle cx="398.46" cy="335.1" r="1.25" fill="#fff" stroke="#000" stroke-width="1.1"/>
<circle cx="400.21" cy="341.04" r="1.25" fill="#fff" stroke="#000" stroke-width="1.1"/>
<circle cx="401.96" cy="341.01" r="1.25" fill="#fff" stroke="#000" stroke-width="1.1"/>
<circle cx="403.71" cy="341.9" r="1.25" fill="#fff" stroke="#000" stroke-width="1.1"/>
<circle cx="405.45" cy="340.93" r="1.25" fill="#fff" stroke="#000" stroke-width="1.1"/>
<circle cx="407.2" cy="341.04" r="1.25" fill="#fff" stroke="#000" stroke-width="1.1"/>
<circle cx="408.95" cy="341.87" r="1.25" fill="#fff" stroke="#000" stroke-width="1.1"/>
<circle cx="410.7" cy="342.96" r="1.25" fill="#fff" stroke="#000" stroke-width="1.1"/>
<circle cx="412.45" cy="340.56" r="1.25" fill="#fff" stroke="#000" stroke-width="1.1"/>
<circle cx="414.19" cy="340.69" r="1.25" fill="#fff" stroke="#000" stroke-width="1.1"/>
<circle cx="415.94" cy="344.63" r="1.25" fill="#fff" stroke="#000" stroke-width="1.1"/>
<circle cx="417.69" cy="342.24" r="1.25" fill="#fff" stroke="#000" stroke-width="1.1"/>
<circle cx="419.44" cy="339.67" r="1.25" fill="#fff" stroke="#000" stroke-width="1.1"/>
<circle cx="421.19" cy="345.3" r="1.25" fill="#fff" stroke="#000" stroke-width="1.1"/>
<circle cx="422.93" cy="342.67" r="1.25" fill="#fff" stroke="#000" stroke-width="1.1"/>
<circle cx="424.68" cy="340.35" r="1.25" fill="#fff" stroke="#000" stroke-width="1.1"/>
<circle cx="426.43" cy="339.36" r="1.25" fill="#fff" stroke="#000" stroke-width="1.1"/>
<circle cx="428.18" cy="341.87" r="1.25" fill="#fff" stroke="#000" stroke-width="1.1"/>
<circle cx="429.93" cy="339.95" r="1.25" fill="#fff" stroke="#000" stroke-width="1.1"/>
<circle cx="431.67" cy="339.57" r="1.25" fill="#fff" stroke="#000" stroke-width="1.1"/>
<circle cx="433.42" cy="339.17" r="1.25" fill="#fff" stroke="#000" stroke-width="1.1"/>
<circle cx="435.17" cy="340.51" r="1.25" fill="#fff" stroke="#000" stroke-width="1.1"/>
<circle cx="436.92" cy="343.26" r="1.25" fill="#fff" stroke="#000" stroke-width="1.1"/>
<circle cx="438.67" cy="340.64" r="1.25" fill="#fff" stroke="#000" stroke-width="1.1"/>
<circle cx="440.41" cy="338.92" r="1.25" fill="#fff" stroke="#000" stroke-width="1.1"/>
<circle cx="442.16" cy="342.52" r="1.25" fill="#fff" stroke="#000" stroke-width="1.1"/>
<circle cx="443.91" cy="341.49" r="1.25" fill="#fff" stroke="#000" stroke-width="1.1"/>
<circle cx="445.66" cy="342.82" r="1.25" fill="#fff" stroke="#000" stroke-width="1.1"/>
<circle cx="447.41" cy="343.43" r="1.25" fill="#fff" stroke="#000" stroke-width="1.1"/>
<polyline points="267.4,210.5 267.9,213.78 268.4,216.98 268.9,220.1 269.4,223.15 269.9,226.11 270.4,229 270.9,231.82 271.4,234.57 271.9,237.25 272.4,239.86 272.9,242.41 273.4,244.9 273.9,247.32 274.4,249.68 274.9,251.98 275.4,254.22 275.9,256.41 276.4,258.54 276.9,260.62 277.4,262.65 277.9,264.62 278.4,266.55 278.9,268.43 279.4,270.26 279.9,272.04 280.4,273.79 280.9,275.48 281.4,277.14 281.9,278.75 282.4,280.32 282.9,281.86 283.4,283.35 283.9,284.81 284.4,286.23 284.9,287.61 285.4,288.96 285.9,290.28 286.4,291.56 286.9,292.82 287.4,294.04 287.9,295.23 288.4,296.39 288.9,297.52 289.4,298.62 289.9,299.69 290.4,300.74 290.9,301.76 291.4,302.76 291.9,303.73 292.4,304.68 292.9,305.6 293.4,306.5 293.9,307.38 294.4,308.23 294.9,309.06 295.4,309.88 295.9,310.67 296.4,311.44 296.9,312.2 297.4,312.93 297.9,313.65 298.4,314.34 298.9,315.02 299.4,315.69 299.9,316.34 300.4,316.97 300.9,317.58 301.4,318.18 301.9,318.76 302.4,319.33 302.9,319.89 303.4,320.43 303.9,320.96 304.4,321.47 304.9,321.98 305.4,322.47 305.9,322.94 306.4,323.41 306.9,323.86 307.4,324.3 307.9,324.73 308.4,325.15 308.9,325.56 309.4,325.96 309.9,326.35 310.4,326.73 310.9,327.1 311.4,327.46 311.9,327.81 312.4,328.16 312.9,328.49 313.4,328.82 313.9,329.14 314.4,329.45 314.9,329.75 315.4,330.04 315.9,330.33 316.4,330.61 316.9,330.88 317.4,331.15 317.9,331.41 318.4,331.66 318.9,331.91 319.4,332.15 319.9,332.38 320.4,332.61 320.9,332.83 321.4,333.05 321.9,333.26 322.4,333.47 322.9,333.67 323.4,333.87 323.9,334.06 324.4,334.24 324.9,334.43 325.4,334.6 325.9,334.78 326.4,334.94 326.9,335.11 327.4,335.27 327.9,335.43 328.4,335.58 328.9,335.73 329.4,335.87 329.9,336.01 330.4,336.15 330.9,336.28 331.4,336.41 331.9,336.54 332.4,336.67 332.9,336.79 333.4,336.91 333.9,337.02 334.4,337.13 334.9,337.24 335.4,337.35 335.9,337.45 336.4,337.55 336.9,337.65 337.4,337.75 337.9,337.84 338.4,337.94 338.9,338.02 339.4,338.11 339.9,338.2 340.4,338.28 340.9,338.36 341.4,338.44 341.9,338.52 342.4,338.59 342.9,338.66 343.4,338.73 343.9,338.8 344.4,338.87 344.9,338.94 345.4,339 345.9,339.06 346.4,339.12 346.9,339.18 347.4,339.24 347.9,339.3 348.4,339.35 348.9,339.41 349.4,339.46 349.9,339.51 350.4,339.56 350.9,339.61 351.4,339.66 351.9,339.7 352.4,339.75 352.9,339.79 353.4,339.84 353.9,339.88 354.4,339.92 354.9,339.96 355.4,340 355.9,340.03 356.4,340.07 356.9,340.11 357.4,340.14 357.9,340.18 358.4,340.21 358.9,340.24 359.4,340.27 359.9,340.3 360.4,340.33 360.9,340.36 361.4,340.39 361.9,340.42 362.4,340.45 362.9,340.47 363.4,340.5 363.9,340.52 364.4,340.55 364.9,340.57 365.4,340.59 365.9,340.62 366.4,340.64 366.9,340.66 367.4,340.68 367.9,340.7 368.4,340.72 368.9,340.74 369.4,340.76 369.9,340.78 370.4,340.8 370.9,340.82 371.4,340.83 371.9,340.85 372.4,340.87 372.9,340.88 373.4,340.9 373.9,340.91 374.4,340.93 374.9,340.94 375.4,340.96 375.9,340.97 376.4,340.98 376.9,340.99 377.4,341.01 377.9,341.02 378.4,341.03 378.9,341.04 379.4,341.06 379.9,341.07 380.4,341.08 380.9,341.09 381.4,341.1 381.9,341.11 382.4,341.12 382.9,341.13 383.4,341.14 383.9,341.15 384.4,341.15 384.9,341.16 385.4,341.17 385.9,341.18 386.4,341.19 386.9,341.2 387.4,341.2 387.9,341.21 388.4,341.22 388.9,341.23 389.4,341.23 389.9,341.24 390.4,341.25 390.9,341.25 391.4,341.26 391.9,341.26 392.4,341.27 392.9,341.28 393.4,341.28 393.9,341.29 394.4,341.29 394.9,341.3 395.4,341.3 395.9,341.31 396.4,341.31 396.9,341.32 397.4,341.32 397.9,341.33 398.4,341.33 398.9,341.33 399.4,341.34 399.9,341.34 400.4,341.35 400.9,341.35 401.4,341.35 401.9,341.36 402.4,341.36 402.9,341.37 403.4,341.37 403.9,341.37 404.4,341.37 404.9,341.38 405.4,341.38 405.9,341.38 406.4,341.39 406.9,341.39 407.4,341.39 407.9,341.4 408.4,341.4 408.9,341.4 409.4,341.4 409.9,341.41 410.4,341.41 410.9,341.41 411.4,341.41 411.9,341.41 412.4,341.42 412.9,341.42 413.4,341.42 413.9,341.42 414.4,341.42 414.9,341.43 415.4,341.43 415.9,341.43 416.4,341.43 416.9,341.43 417.4,341.44 417.9,341.44 418.4,341.44 418.9,341.44 419.4,341.44 419.9,341.44 420.4,341.44 420.9,341.45 421.4,341.45 421.9,341.45 422.4,341.45 422.9,341.45 423.4,341.45 423.9,341.45 424.4,341.45 424.9,341.46 425.4,341.46 425.9,341.46 426.4,341.46 426.9,341.46 427.4,341.46 427.9,341.46 428.4,341.46 428.9,341.46 429.4,341.46 429.9,341.47 430.4,341.47 430.9,341.47 431.4,341.47 431.9,341.47 432.4,341.47 432.9,341.47 433.4,341.47 433.9,341.47 434.4,341.47 434.9,341.47 435.4,341.47 435.9,341.47 436.4,341.48 436.9,341.48 437.4,341.48 437.9,341.48 438.4,341.48 438.9,341.48 439.4,341.48 439.9,341.48 440.4,341.48 440.9,341.48 441.4,341.48 441.9,341.48 442.4,341.48 442.9,341.48 443.4,341.48 443.9,341.48 444.4,341.48 444.9,341.48 445.4,341.48 445.9,341.48 446.4,341.49 446.9,341.49 447.4,341.49 447.9,341.49 448.4,341.49 448.9,341.49" fill="none" stroke="#000" stroke-width="2.2" stroke-linejoin="round" stroke-linecap="round" />
<polyline points="267.4,213.6 267.9,217.16 268.4,220.62 268.9,223.99 269.4,227.27 269.9,230.46 270.4,233.56 270.9,236.58 271.4,239.52 271.9,242.38 272.4,245.16 272.9,247.87 273.4,250.5 273.9,253.06 274.4,255.56 274.9,257.98 275.4,260.35 275.9,262.64 276.4,264.88 276.9,267.05 277.4,269.17 277.9,271.23 278.4,273.24 278.9,275.19 279.4,277.08 279.9,278.93 280.4,280.73 280.9,282.48 281.4,284.18 281.9,285.83 282.4,287.44 282.9,289.01 283.4,290.54 283.9,292.02 284.4,293.46 284.9,294.87 285.4,296.24 285.9,297.57 286.4,298.86 286.9,300.12 287.4,301.35 287.9,302.54 288.4,303.7 288.9,304.83 289.4,305.93 289.9,307 290.4,308.04 290.9,309.05 291.4,310.04 291.9,310.99 292.4,311.93 292.9,312.84 293.4,313.72 293.9,314.58 294.4,315.41 294.9,316.23 295.4,317.02 295.9,317.79 296.4,318.54 296.9,319.27 297.4,319.98 297.9,320.67 298.4,321.34 298.9,321.99 299.4,322.63 299.9,323.25 300.4,323.85 300.9,324.44 301.4,325.01 301.9,325.56 302.4,326.1 302.9,326.63 303.4,327.14 303.9,327.64 304.4,328.12 304.9,328.59 305.4,329.05 305.9,329.5 306.4,329.93 306.9,330.35 307.4,330.76 307.9,331.16 308.4,331.55 308.9,331.93 309.4,332.3 309.9,332.66 310.4,333.01 310.9,333.35 311.4,333.68 311.9,334 312.4,334.31 312.9,334.62 313.4,334.91 313.9,335.2 314.4,335.48 314.9,335.75 315.4,336.02 315.9,336.28 316.4,336.53 316.9,336.77 317.4,337.01 317.9,337.24 318.4,337.47 318.9,337.69 319.4,337.9 319.9,338.11 320.4,338.31 320.9,338.51 321.4,338.7 321.9,338.88 322.4,339.06 322.9,339.24 323.4,339.41 323.9,339.58 324.4,339.74 324.9,339.9 325.4,340.05 325.9,340.2 326.4,340.35 326.9,340.49 327.4,340.63 327.9,340.76 328.4,340.89 328.9,341.02 329.4,341.14 329.9,341.26 330.4,341.38 330.9,341.49 331.4,341.6 331.9,341.71 332.4,341.82 332.9,341.92 333.4,342.02 333.9,342.11 334.4,342.21 334.9,342.3 335.4,342.39 335.9,342.47 336.4,342.56 336.9,342.64 337.4,342.72 337.9,342.8 338.4,342.87 338.9,342.95 339.4,343.02 339.9,343.09 340.4,343.16 340.9,343.22 341.4,343.29 341.9,343.35 342.4,343.41 342.9,343.47 343.4,343.53 343.9,343.58 344.4,343.64 344.9,343.69 345.4,343.74 345.9,343.79 346.4,343.84 346.9,343.89 347.4,343.93 347.9,343.98 348.4,344.02 348.9,344.06 349.4,344.11 349.9,344.15 350.4,344.18 350.9,344.22 351.4,344.26 351.9,344.3 352.4,344.33 352.9,344.37 353.4,344.4 353.9,344.43 354.4,344.46 354.9,344.49 355.4,344.52 355.9,344.55 356.4,344.58 356.9,344.61 357.4,344.63 357.9,344.66 358.4,344.69 358.9,344.71 359.4,344.73 359.9,344.76 360.4,344.78 360.9,344.8 361.4,344.82 361.9,344.85 362.4,344.87 362.9,344.89 363.4,344.9 363.9,344.92 364.4,344.94 364.9,344.96 365.4,344.98 365.9,344.99 366.4,345.01 366.9,345.03 367.4,345.04 367.9,345.06 368.4,345.07 368.9,345.09 369.4,345.1 369.9,345.11 370.4,345.13 370.9,345.14 371.4,345.15 371.9,345.16 372.4,345.17 372.9,345.19 373.4,345.2 373.9,345.21 374.4,345.22 374.9,345.23 375.4,345.24 375.9,345.25 376.4,345.26 376.9,345.27 377.4,345.28 377.9,345.29 378.4,345.29 378.9,345.3 379.4,345.31 379.9,345.32 380.4,345.33 380.9,345.33 381.4,345.34 381.9,345.35 382.4,345.35 382.9,345.36 383.4,345.37 383.9,345.37 384.4,345.38 384.9,345.39 385.4,345.39 385.9,345.4 386.4,345.4 386.9,345.41 387.4,345.41 387.9,345.42 388.4,345.42 388.9,345.43 389.4,345.43 389.9,345.44 390.4,345.44 390.9,345.45 391.4,345.45 391.9,345.45 392.4,345.46 392.9,345.46 393.4,345.46 393.9,345.47 394.4,345.47 394.9,345.48 395.4,345.48 395.9,345.48 396.4,345.49 396.9,345.49 397.4,345.49 397.9,345.49 398.4,345.5 398.9,345.5 399.4,345.5 399.9,345.51 400.4,345.51 400.9,345.51 401.4,345.51 401.9,345.52 402.4,345.52 402.9,345.52 403.4,345.52 403.9,345.52 404.4,345.53 404.9,345.53 405.4,345.53 405.9,345.53 406.4,345.53 406.9,345.54 407.4,345.54 407.9,345.54 408.4,345.54 408.9,345.54 409.4,345.54 409.9,345.55 410.4,345.55 410.9,345.55 411.4,345.55 411.9,345.55 412.4,345.55 412.9,345.55 413.4,345.55 413.9,345.56 414.4,345.56 414.9,345.56 415.4,345.56 415.9,345.56 416.4,345.56 416.9,345.56 417.4,345.56 417.9,345.56 418.4,345.57 418.9,345.57 419.4,345.57 419.9,345.57 420.4,345.57 420.9,345.57 421.4,345.57 421.9,345.57 422.4,345.57 422.9,345.57 423.4,345.57 423.9,345.57 424.4,345.58 424.9,345.58 425.4,345.58 425.9,345.58 426.4,345.58 426.9,345.58 427.4,345.58 427.9,345.58 428.4,345.58 428.9,345.58 429.4,345.58 429.9,345.58 430.4,345.58 430.9,345.58 431.4,345.58 431.9,345.58 432.4,345.58 432.9,345.58 433.4,345.58 433.9,345.59 434.4,345.59 434.9,345.59 435.4,345.59 435.9,345.59 436.4,345.59 436.9,345.59 437.4,345.59 437.9,345.59 438.4,345.59 438.9,345.59 439.4,345.59 439.9,345.59 440.4,345.59 440.9,345.59 441.4,345.59 441.9,345.59 442.4,345.59 442.9,345.59 443.4,345.59 443.9,345.59 444.4,345.59 444.9,345.59 445.4,345.59 445.9,345.59 446.4,345.59 446.9,345.59 447.4,345.59 447.9,345.59 448.4,345.59 448.9,345.59" fill="none" stroke="#ff0000" stroke-width="2.5" stroke-linejoin="round" stroke-linecap="round" />
<circle cx="364.3" cy="215.1" r="2.1" fill="#000"/>
<circle cx="364.8" cy="214.6" r="0.65" fill="#fff" opacity="0.8"/>
<circle cx="364.3" cy="227.9" r="2.1" fill="#ff0000"/>
<circle cx="364.8" cy="227.4" r="0.65" fill="#fff" opacity="0.8"/>
<line x1="354.8" y1="239.9" x2="372.8" y2="239.9" stroke="#000" stroke-width="2.3" />
<line x1="354.8" y1="252.2" x2="372.8" y2="252.2" stroke="#ff0000" stroke-width="2.3" />
<text x="374.5" y="218.3" font-family="Liberation Sans, sans-serif" font-size="8.4" font-weight="bold" fill="#000" text-anchor="start" textLength="26.5" lengthAdjust="spacingAndGlyphs">Control</text>
<text x="374.5" y="231" font-family="Liberation Sans, sans-serif" font-size="8.4" font-weight="bold" fill="#000" text-anchor="start" textLength="22.3" lengthAdjust="spacingAndGlyphs">Target</text>
<text x="374.5" y="243" font-family="Liberation Sans, sans-serif" font-size="8.4" font-weight="bold" fill="#000" text-anchor="start" textLength="51.2" lengthAdjust="spacingAndGlyphs">Control fitting</text>
<text x="374.5" y="255.3" font-family="Liberation Sans, sans-serif" font-size="8.4" font-weight="bold" fill="#000" text-anchor="start" textLength="47.5" lengthAdjust="spacingAndGlyphs">Target fitting</text>
<text x="338" y="327.4" font-family="Liberation Sans, sans-serif" font-size="10.3" font-weight="bold" fill="#000" text-anchor="start" textLength="31" lengthAdjust="spacingAndGlyphs">1.03 μs</text>
<text x="272.3" y="349.6" font-family="Liberation Sans, sans-serif" font-size="10.3" font-weight="bold" fill="#ff0000" text-anchor="start" textLength="31.1" lengthAdjust="spacingAndGlyphs">0.94 μs</text>
<text transform="translate(239.6 279.2) rotate(-90)" font-family="Liberation Sans, sans-serif" font-size="7.8" font-weight="bold" text-anchor="middle" fill="#000" textLength="122" lengthAdjust="spacingAndGlyphs">Normalized photocurrent (a.u.)</text>
<text x="337.5" y="388.2" font-family="Liberation Sans, sans-serif" font-size="8.6" font-weight="bold" fill="#000" text-anchor="start" textLength="30.6" lengthAdjust="spacingAndGlyphs">Time (μs)</text>
<text x="227.5" y="201.0" font-family="Liberation Serif, serif" font-size="13.6" font-weight="bold">e</text>
<rect x="485.25" y="201.5" width="197.85" height="163.8" fill="none" stroke="#000" stroke-width="1.15"/>
<line x1="485.25" y1="365.3" x2="487.85" y2="365.3" stroke="#000" stroke-width="1" />
<line x1="485.25" y1="339.16" x2="487.85" y2="339.16" stroke="#000" stroke-width="1" />
<line x1="485.25" y1="313.02" x2="487.85" y2="313.02" stroke="#000" stroke-width="1" />
<line x1="485.25" y1="286.88" x2="487.85" y2="286.88" stroke="#000" stroke-width="1" />
<line x1="485.25" y1="260.74" x2="487.85" y2="260.74" stroke="#000" stroke-width="1" />
<line x1="485.25" y1="234.6" x2="487.85" y2="234.6" stroke="#000" stroke-width="1" />
<line x1="485.25" y1="208.46" x2="487.85" y2="208.46" stroke="#000" stroke-width="1" />
<line x1="485.25" y1="352.23" x2="486.85" y2="352.23" stroke="#000" stroke-width="1" />
<line x1="485.25" y1="326.09" x2="486.85" y2="326.09" stroke="#000" stroke-width="1" />
<line x1="485.25" y1="299.95" x2="486.85" y2="299.95" stroke="#000" stroke-width="1" />
<line x1="485.25" y1="273.81" x2="486.85" y2="273.81" stroke="#000" stroke-width="1" />
<line x1="485.25" y1="247.67" x2="486.85" y2="247.67" stroke="#000" stroke-width="1" />
<line x1="485.25" y1="221.53" x2="486.85" y2="221.53" stroke="#000" stroke-width="1" />
<line x1="484.53" y1="365.3" x2="484.53" y2="362.7" stroke="#000" stroke-width="1" />
<line x1="505.5" y1="365.3" x2="505.5" y2="362.7" stroke="#000" stroke-width="1" />
<line x1="526.47" y1="365.3" x2="526.47" y2="362.7" stroke="#000" stroke-width="1" />
<line x1="547.44" y1="365.3" x2="547.44" y2="362.7" stroke="#000" stroke-width="1" />
<line x1="568.41" y1="365.3" x2="568.41" y2="362.7" stroke="#000" stroke-width="1" />
<line x1="589.38" y1="365.3" x2="589.38" y2="362.7" stroke="#000" stroke-width="1" />
<line x1="610.35" y1="365.3" x2="610.35" y2="362.7" stroke="#000" stroke-width="1" />
<line x1="631.32" y1="365.3" x2="631.32" y2="362.7" stroke="#000" stroke-width="1" />
<line x1="652.29" y1="365.3" x2="652.29" y2="362.7" stroke="#000" stroke-width="1" />
<line x1="673.26" y1="365.3" x2="673.26" y2="362.7" stroke="#000" stroke-width="1" />
<line x1="495.01" y1="365.3" x2="495.01" y2="363.7" stroke="#000" stroke-width="1" />
<line x1="515.99" y1="365.3" x2="515.99" y2="363.7" stroke="#000" stroke-width="1" />
<line x1="536.96" y1="365.3" x2="536.96" y2="363.7" stroke="#000" stroke-width="1" />
<line x1="557.92" y1="365.3" x2="557.92" y2="363.7" stroke="#000" stroke-width="1" />
<line x1="578.89" y1="365.3" x2="578.89" y2="363.7" stroke="#000" stroke-width="1" />
<line x1="599.87" y1="365.3" x2="599.87" y2="363.7" stroke="#000" stroke-width="1" />
<line x1="620.84" y1="365.3" x2="620.84" y2="363.7" stroke="#000" stroke-width="1" />
<line x1="641.81" y1="365.3" x2="641.81" y2="363.7" stroke="#000" stroke-width="1" />
<line x1="662.77" y1="365.3" x2="662.77" y2="363.7" stroke="#000" stroke-width="1" />
<text x="481.6" y="367.6" font-family="Liberation Sans, sans-serif" font-size="6.9" font-weight="normal" fill="#000" text-anchor="end" textLength="9.8" lengthAdjust="spacingAndGlyphs">0.0</text>
<text x="481.6" y="341.46" font-family="Liberation Sans, sans-serif" font-size="6.9" font-weight="normal" fill="#000" text-anchor="end" textLength="9.8" lengthAdjust="spacingAndGlyphs">0.2</text>
<text x="481.6" y="315.32" font-family="Liberation Sans, sans-serif" font-size="6.9" font-weight="normal" fill="#000" text-anchor="end" textLength="9.8" lengthAdjust="spacingAndGlyphs">0.4</text>
<text x="481.6" y="289.18" font-family="Liberation Sans, sans-serif" font-size="6.9" font-weight="normal" fill="#000" text-anchor="end" textLength="9.8" lengthAdjust="spacingAndGlyphs">0.6</text>
<text x="481.6" y="263.04" font-family="Liberation Sans, sans-serif" font-size="6.9" font-weight="normal" fill="#000" text-anchor="end" textLength="9.8" lengthAdjust="spacingAndGlyphs">0.8</text>
<text x="481.6" y="236.9" font-family="Liberation Sans, sans-serif" font-size="6.9" font-weight="normal" fill="#000" text-anchor="end" textLength="9.8" lengthAdjust="spacingAndGlyphs">1.0</text>
<text x="481.6" y="210.76" font-family="Liberation Sans, sans-serif" font-size="6.9" font-weight="normal" fill="#000" text-anchor="end" textLength="9.8" lengthAdjust="spacingAndGlyphs">1.2</text>
<text x="485.73" y="375.3" font-family="Liberation Sans, sans-serif" font-size="6.9" font-weight="bold" fill="#000" text-anchor="middle">-1</text>
<text x="506.1" y="375.3" font-family="Liberation Sans, sans-serif" font-size="6.9" font-weight="bold" fill="#000" text-anchor="middle">0</text>
<text x="527.07" y="375.3" font-family="Liberation Sans, sans-serif" font-size="6.9" font-weight="bold" fill="#000" text-anchor="middle">1</text>
<text x="548.04" y="375.3" font-family="Liberation Sans, sans-serif" font-size="6.9" font-weight="bold" fill="#000" text-anchor="middle">2</text>
<text x="569.01" y="375.3" font-family="Liberation Sans, sans-serif" font-size="6.9" font-weight="bold" fill="#000" text-anchor="middle">3</text>
<text x="589.98" y="375.3" font-family="Liberation Sans, sans-serif" font-size="6.9" font-weight="bold" fill="#000" text-anchor="middle">4</text>
<text x="610.95" y="375.3" font-family="Liberation Sans, sans-serif" font-size="6.9" font-weight="bold" fill="#000" text-anchor="middle">5</text>
<text x="631.92" y="375.3" font-family="Liberation Sans, sans-serif" font-size="6.9" font-weight="bold" fill="#000" text-anchor="middle">6</text>
<text x="652.89" y="375.3" font-family="Liberation Sans, sans-serif" font-size="6.9" font-weight="bold" fill="#000" text-anchor="middle">7</text>
<text x="673.86" y="375.3" font-family="Liberation Sans, sans-serif" font-size="6.9" font-weight="bold" fill="#000" text-anchor="middle">8</text>
<polyline points="485,210.6 506,210.6 506.1,230 506.09,232.3 506.07,235.5 506.05,239.33 506.03,243.5 506.02,247.73 506.02,251.75 506.05,255.27 506.1,258 506.18,259.95 506.29,261.38 506.41,262.42 506.55,263.19 506.7,263.81 506.86,264.4 507.03,265.09 507.2,266 507.37,267.08 507.55,268.18 507.74,269.3 507.94,270.44 508.14,271.58 508.35,272.73 508.57,273.87 508.8,275 509.04,276.12 509.29,277.24 509.56,278.35 509.83,279.47 510.11,280.59 510.38,281.71 510.64,282.85 510.9,284 511.14,285.14 511.38,286.26 511.6,287.38 511.82,288.51 512.05,289.67 512.29,290.88 512.54,292.15 512.8,293.5 513.09,294.95 513.39,296.49 513.71,298.11 514.03,299.76 514.36,301.44 514.68,303.1 515,304.73 515.3,306.3 515.59,307.83 515.88,309.37 516.16,310.89 516.44,312.39 516.72,313.86 516.99,315.29 517.25,316.67 517.5,318 517.74,319.26 517.97,320.46 518.19,321.62 518.4,322.73 518.61,323.82 518.83,324.88 519.06,325.94 519.3,327 519.55,328.06 519.8,329.12 520.06,330.16 520.32,331.19 520.6,332.19 520.88,333.16 521.18,334.1 521.5,335 521.83,335.86 522.17,336.68 522.52,337.46 522.89,338.22 523.27,338.95 523.66,339.65 524.07,340.34 524.5,341 524.95,341.65 525.42,342.27 525.9,342.88 526.41,343.46 526.92,344.01 527.44,344.54 527.97,345.03 528.5,345.5 529.02,345.92 529.51,346.3 530.01,346.64 530.51,346.96 531.05,347.27 531.63,347.57 532.28,347.87 533,348.2 533.73,348.53 534.42,348.84 535.13,349.15 535.91,349.46 536.81,349.78 537.89,350.12 539.2,350.49 540.8,350.9 542.74,351.37 545,351.9 547.5,352.47 550.17,353.06 552.95,353.64 555.76,354.19 558.53,354.68 561.2,355.1 563.8,355.44 566.42,355.71 569.06,355.95 571.7,356.14 574.35,356.32 577,356.48 579.65,356.63 582.3,356.8 584.95,356.97 587.59,357.12 590.24,357.27 592.89,357.41 595.55,357.54 598.2,357.66 600.85,357.78 603.5,357.9 606.15,358.02 608.8,358.13 611.45,358.23 614.11,358.33 616.76,358.43 619.41,358.52 622.05,358.61 624.7,358.7 627.34,358.79 629.98,358.87 632.62,358.94 635.25,359.02 637.88,359.09 640.52,359.16 643.16,359.23 645.8,359.3 648.48,359.37 651.21,359.44 653.97,359.5 656.72,359.57 659.43,359.63 662.06,359.69 664.6,359.75 667,359.8 669.36,359.85 671.74,359.9 674.08,359.94 676.33,359.98 678.4,360.02 680.25,360.05 681.8,360.08 683,360.1" fill="none" stroke="#000" stroke-width="3.5" stroke-linejoin="round" stroke-linecap="round" />
<polyline points="485,210.6 506.1,210.6 506.2,230 506.2,232.3 506.19,235.52 506.17,239.37 506.16,243.56 506.16,247.81 506.16,251.82 506.17,255.31 506.2,258 506.24,259.88 506.3,261.23 506.37,262.16 506.44,262.81 506.53,263.3 506.61,263.74 506.71,264.27 506.8,265 506.89,265.86 506.97,266.71 507.05,267.55 507.14,268.39 507.24,269.24 507.36,270.12 507.51,271.04 507.7,272 507.92,272.99 508.17,273.98 508.44,275 508.73,276.04 509.05,277.14 509.38,278.28 509.73,279.5 510.1,280.8 510.49,282.2 510.92,283.7 511.38,285.27 511.84,286.9 512.32,288.56 512.79,290.23 513.26,291.88 513.7,293.5 514.13,295.1 514.55,296.72 514.96,298.34 515.37,299.96 515.78,301.58 516.18,303.18 516.59,304.75 517,306.3 517.41,307.83 517.82,309.37 518.23,310.89 518.64,312.39 519.05,313.86 519.46,315.29 519.88,316.67 520.3,318 520.72,319.26 521.14,320.47 521.57,321.64 521.99,322.76 522.43,323.85 522.87,324.92 523.33,325.97 523.8,327 524.28,328.02 524.77,329.03 525.26,330.01 525.77,330.97 526.29,331.9 526.84,332.8 527.4,333.67 528,334.5 528.62,335.29 529.26,336.06 529.93,336.78 530.61,337.48 531.32,338.15 532.05,338.79 532.81,339.41 533.6,340 534.41,340.56 535.24,341.08 536.09,341.58 536.97,342.04 537.88,342.49 538.82,342.93 539.79,343.37 540.8,343.8 541.84,344.23 542.91,344.64 544.02,345.04 545.15,345.44 546.32,345.83 547.51,346.21 548.74,346.6 550,347 551.24,347.4 552.43,347.8 553.62,348.2 554.86,348.61 556.19,349.01 557.66,349.41 559.31,349.8 561.2,350.2 563.36,350.6 565.78,351.01 568.38,351.43 571.13,351.84 573.95,352.24 576.79,352.62 579.59,352.98 582.3,353.3 584.95,353.59 587.59,353.86 590.24,354.1 592.89,354.33 595.55,354.53 598.2,354.73 600.85,354.92 603.5,355.1 606.15,355.27 608.8,355.43 611.45,355.57 614.11,355.7 616.76,355.83 619.41,355.95 622.05,356.07 624.7,356.2 627.34,356.33 629.98,356.46 632.62,356.6 635.25,356.72 637.88,356.85 640.52,356.97 643.16,357.09 645.8,357.2 648.48,357.3 651.21,357.4 653.97,357.5 656.72,357.59 659.43,357.67 662.06,357.75 664.6,357.83 667,357.9 669.36,357.97 671.74,358.03 674.08,358.09 676.33,358.14 678.4,358.19 680.25,358.24 681.8,358.27 683,358.3" fill="none" stroke="#ff0000" stroke-width="4.2" stroke-linejoin="round" stroke-linecap="round" />
<line x1="598.1" y1="220.7" x2="617.3" y2="220.7" stroke="#000" stroke-width="1.3" />
<circle cx="607.8" cy="220.7" r="1.3" fill="#fff" stroke="#000" stroke-width="1.3"/>
<line x1="598.1" y1="231.7" x2="617.3" y2="231.7" stroke="#ff0000" stroke-width="1.3" />
<circle cx="607.8" cy="231.7" r="1.3" fill="#fff" stroke="#ff0000" stroke-width="1.3"/>
<text x="619.8" y="223.7" font-family="Liberation Sans, sans-serif" font-size="8.4" font-weight="bold" fill="#000" text-anchor="start" textLength="25.1" lengthAdjust="spacingAndGlyphs">Control</text>
<text x="619.8" y="234.7" font-family="Liberation Sans, sans-serif" font-size="8.4" font-weight="bold" fill="#000" text-anchor="start" textLength="21.8" lengthAdjust="spacingAndGlyphs">Target</text>
<text transform="translate(466.2 283) rotate(-90)" font-family="Liberation Sans, sans-serif" font-size="7.6" font-weight="bold" text-anchor="middle" fill="#000" textLength="24.5" lengthAdjust="spacingAndGlyphs"><tspan font-style="italic">V</tspan><tspan font-size="5.5" dy="1.5">OC</tspan><tspan dy="-1.5"> (V)</tspan></text>
<text x="572" y="386.2" font-family="Liberation Sans, sans-serif" font-size="8.6" font-weight="bold" fill="#000" text-anchor="start" textLength="27.6" lengthAdjust="spacingAndGlyphs">Time (s)</text>
<text x="461.9" y="202.6" font-family="Liberation Sans, sans-serif" font-size="12.3" font-weight="bold" fill="#000" text-anchor="start" textLength="4.6" lengthAdjust="spacingAndGlyphs">f</text></svg></body></html>
